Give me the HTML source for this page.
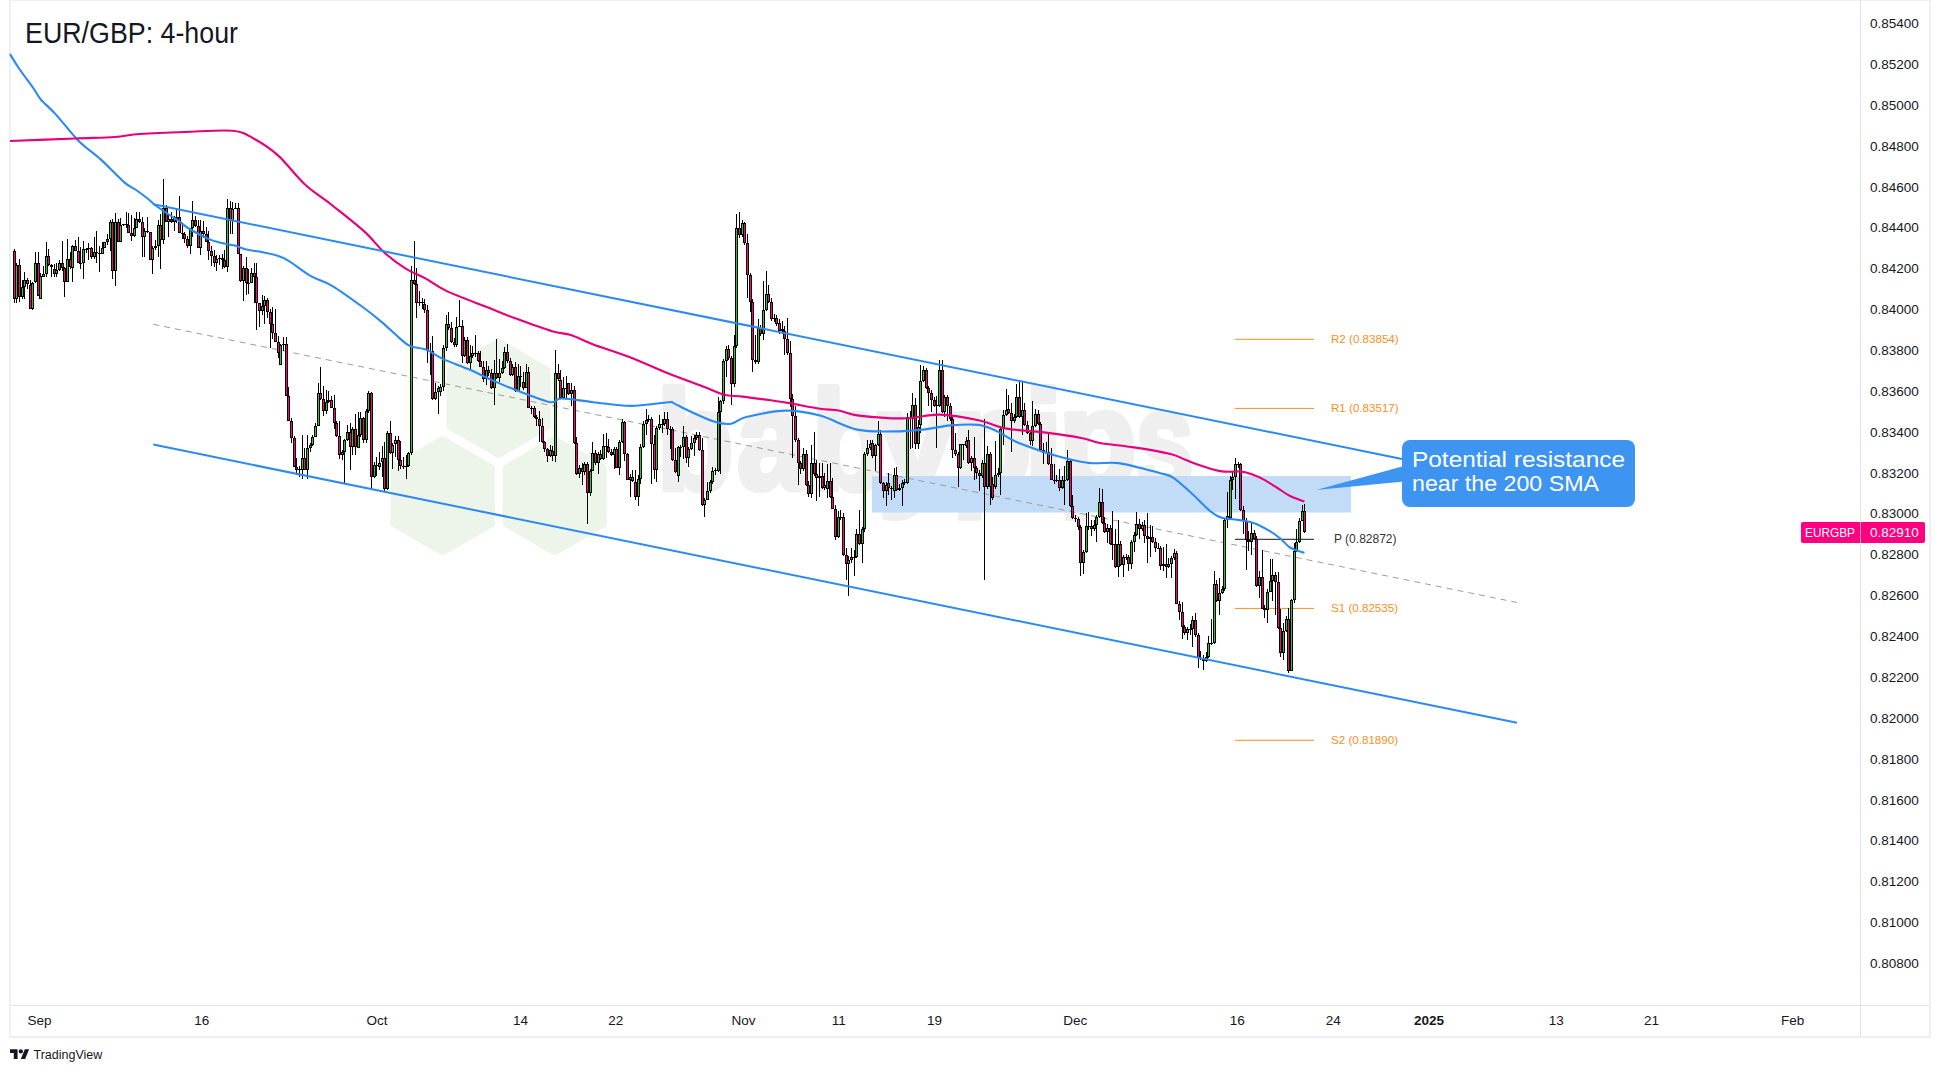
<!DOCTYPE html><html><head><meta charset="utf-8"><style>html,body{margin:0;padding:0;background:#fff;width:1940px;height:1072px;overflow:hidden}svg{display:block}text{font-family:"Liberation Sans",sans-serif}</style></head><body>
<svg width="1940" height="1072" viewBox="0 0 1940 1072">
<rect width="1940" height="1072" fill="#ffffff"/>
<rect x="9" y="0" width="2" height="1038" fill="#eef0f3"/>
<rect x="9" y="0" width="1922" height="1" fill="#eef0f3"/>
<rect x="1929" y="0" width="2" height="1038" fill="#eef0f3"/>
<rect x="9" y="1036" width="1922" height="2" fill="#eef0f3"/>
<rect x="1860" y="0" width="1" height="1036" fill="#e0e2e6"/>
<rect x="11" y="1005" width="1918" height="1" fill="#e0e2e6"/>
<path d="M498.6,342.8 L546.7,370.6 L546.7,426.1 L498.6,453.8 L450.5,426.1 L450.5,370.6Z" fill="#edf5eb" stroke="#edf5eb" stroke-width="8" stroke-linejoin="round"/>
<path d="M442.7,440.3 L490.8,468.1 L490.8,523.5 L442.7,551.3 L394.6,523.5 L394.6,468.1Z" fill="#edf5eb" stroke="#edf5eb" stroke-width="8" stroke-linejoin="round"/>
<path d="M554.8,440.3 L602.9,468.1 L602.9,523.5 L554.8,551.3 L506.7,523.5 L506.7,468.1Z" fill="#edf5eb" stroke="#edf5eb" stroke-width="8" stroke-linejoin="round"/>
<g fill="#efefef" stroke="#efefef" stroke-width="6" stroke-linejoin="round"><text transform="translate(656.6,489) scale(0.896,1)" font-size="141" font-weight="bold">b</text><text transform="translate(737.1,489) scale(0.852,1)" font-size="141" font-weight="bold">a</text><text transform="translate(811.8,489) scale(0.870,1)" font-size="141" font-weight="bold">b</text><text transform="translate(878.0,489) scale(0.988,1)" font-size="141" font-weight="bold">y</text><text transform="translate(951.4,489) scale(0.935,1)" font-size="141" font-weight="bold">p</text><text transform="translate(1024.0,489) scale(1.000,1)" font-size="141" font-weight="bold">i</text><text transform="translate(1058.5,489) scale(0.909,1)" font-size="141" font-weight="bold">p</text><text transform="translate(1135.5,489) scale(0.743,1)" font-size="141" font-weight="bold">s</text></g>
<rect x="872" y="476" width="479" height="36.5" fill="#c2dcf8"/>
<line x1="153.3" y1="324.3" x2="1517" y2="602.5" stroke="#9c9c9c" stroke-width="1" stroke-dasharray="6,5"/>
<rect x="1235" y="338.8" width="79" height="1" fill="#f5901e"/>
<text x="1331" y="343.3" font-size="11.6" fill="#f5901e">R2 (0.83854)</text>
<rect x="1235" y="407.9" width="79" height="1" fill="#f5901e"/>
<text x="1331" y="412.4" font-size="11.6" fill="#f5901e">R1 (0.83517)</text>
<rect x="1235" y="607.9" width="79" height="1" fill="#f5901e"/>
<text x="1331" y="612.4" font-size="11.6" fill="#f5901e">S1 (0.82535)</text>
<rect x="1235" y="739.8" width="79" height="1" fill="#f5901e"/>
<text x="1331" y="744.3" font-size="11.6" fill="#f5901e">S2 (0.81890)</text>
<g shape-rendering="crispEdges"><rect x="14" y="249.4" width="1" height="53.9" fill="#000"/><rect x="13" y="250.6" width="3" height="48.4" fill="#000"/><rect x="14" y="251.6" width="1" height="46.4" fill="#ff0080"/><rect x="16" y="262.7" width="1" height="40.3" fill="#000"/><rect x="15" y="264.5" width="3" height="34.5" fill="#000"/><rect x="16" y="265.5" width="1" height="32.5" fill="#33c41f"/><rect x="19" y="259.0" width="1" height="43.0" fill="#000"/><rect x="18" y="264.5" width="3" height="32.2" fill="#000"/><rect x="19" y="265.5" width="1" height="30.2" fill="#ff0080"/><rect x="22" y="280.0" width="1" height="19.0" fill="#000"/><rect x="21" y="287.0" width="3" height="10.0" fill="#000"/><rect x="22" y="288.0" width="1" height="8.0" fill="#33c41f"/><rect x="24" y="272.4" width="1" height="26.1" fill="#000"/><rect x="23" y="279.7" width="3" height="7.3" fill="#000"/><rect x="24" y="280.7" width="1" height="5.3" fill="#33c41f"/><rect x="27" y="278.0" width="1" height="11.0" fill="#000"/><rect x="26" y="280.0" width="3" height="4.0" fill="#000"/><rect x="27" y="281.0" width="1" height="2.0" fill="#ff0080"/><rect x="30" y="280.0" width="1" height="29.4" fill="#000"/><rect x="29" y="284.5" width="3" height="24.9" fill="#000"/><rect x="30" y="285.5" width="1" height="22.9" fill="#ff0080"/><rect x="32" y="281.5" width="1" height="28.5" fill="#000"/><rect x="31" y="282.7" width="3" height="26.7" fill="#000"/><rect x="32" y="283.7" width="1" height="24.7" fill="#33c41f"/><rect x="35" y="252.4" width="1" height="30.6" fill="#000"/><rect x="34" y="263.3" width="3" height="18.7" fill="#000"/><rect x="35" y="264.3" width="1" height="16.7" fill="#33c41f"/><rect x="38" y="252.4" width="1" height="43.6" fill="#000"/><rect x="37" y="263.3" width="3" height="32.2" fill="#000"/><rect x="38" y="264.3" width="1" height="30.2" fill="#ff0080"/><rect x="40" y="273.0" width="1" height="25.5" fill="#000"/><rect x="39" y="276.0" width="3" height="22.5" fill="#000"/><rect x="40" y="277.0" width="1" height="20.5" fill="#33c41f"/><rect x="43" y="266.4" width="1" height="10.6" fill="#000"/><rect x="42" y="273.6" width="3" height="3.4" fill="#000"/><rect x="43" y="274.6" width="1" height="1.4" fill="#33c41f"/><rect x="46" y="242.0" width="1" height="35.0" fill="#000"/><rect x="45" y="256.0" width="3" height="18.0" fill="#000"/><rect x="46" y="257.0" width="1" height="16.0" fill="#33c41f"/><rect x="48" y="249.4" width="1" height="16.6" fill="#000"/><rect x="47" y="256.0" width="3" height="9.0" fill="#000"/><rect x="48" y="257.0" width="1" height="7.0" fill="#ff0080"/><rect x="51" y="264.0" width="1" height="13.0" fill="#000"/><rect x="50" y="265.0" width="3" height="2.0" fill="#000"/><rect x="54" y="264.0" width="1" height="13.0" fill="#000"/><rect x="53" y="269.0" width="3" height="5.0" fill="#000"/><rect x="54" y="270.0" width="1" height="3.0" fill="#ff0080"/><rect x="56" y="262.7" width="1" height="14.0" fill="#000"/><rect x="55" y="270.0" width="3" height="4.0" fill="#000"/><rect x="56" y="271.0" width="1" height="2.0" fill="#33c41f"/><rect x="59" y="260.0" width="1" height="10.6" fill="#000"/><rect x="58" y="263.3" width="3" height="6.7" fill="#000"/><rect x="59" y="264.3" width="1" height="4.7" fill="#33c41f"/><rect x="62" y="241.0" width="1" height="29.6" fill="#000"/><rect x="61" y="263.0" width="3" height="5.0" fill="#000"/><rect x="62" y="264.0" width="1" height="3.0" fill="#ff0080"/><rect x="64" y="267.0" width="1" height="29.7" fill="#000"/><rect x="63" y="268.0" width="3" height="13.5" fill="#000"/><rect x="64" y="269.0" width="1" height="11.5" fill="#ff0080"/><rect x="67" y="238.5" width="1" height="43.0" fill="#000"/><rect x="66" y="258.5" width="3" height="23.0" fill="#000"/><rect x="67" y="259.5" width="1" height="21.0" fill="#33c41f"/><rect x="70" y="252.4" width="1" height="17.0" fill="#000"/><rect x="69" y="258.5" width="3" height="8.5" fill="#000"/><rect x="70" y="259.5" width="1" height="6.5" fill="#ff0080"/><rect x="72" y="245.0" width="1" height="36.5" fill="#000"/><rect x="71" y="245.8" width="3" height="21.8" fill="#000"/><rect x="72" y="246.8" width="1" height="19.8" fill="#33c41f"/><rect x="75" y="239.7" width="1" height="11.5" fill="#000"/><rect x="74" y="245.8" width="3" height="5.4" fill="#000"/><rect x="75" y="246.8" width="1" height="3.4" fill="#ff0080"/><rect x="78" y="237.3" width="1" height="25.4" fill="#000"/><rect x="77" y="251.2" width="3" height="11.5" fill="#000"/><rect x="78" y="252.2" width="1" height="9.5" fill="#ff0080"/><rect x="80" y="247.0" width="1" height="22.4" fill="#000"/><rect x="79" y="262.7" width="3" height="1.3" fill="#000"/><rect x="83" y="241.0" width="1" height="37.5" fill="#000"/><rect x="82" y="248.6" width="3" height="13.9" fill="#000"/><rect x="83" y="249.6" width="1" height="11.9" fill="#33c41f"/><rect x="86" y="247.6" width="1" height="5.4" fill="#000"/><rect x="85" y="248.6" width="3" height="1.0" fill="#000"/><rect x="88" y="243.0" width="1" height="17.3" fill="#000"/><rect x="87" y="248.0" width="3" height="1.0" fill="#000"/><rect x="91" y="247.0" width="1" height="12.0" fill="#000"/><rect x="90" y="248.0" width="3" height="9.3" fill="#000"/><rect x="91" y="249.0" width="1" height="7.3" fill="#ff0080"/><rect x="94" y="237.0" width="1" height="22.0" fill="#000"/><rect x="93" y="252.0" width="3" height="5.3" fill="#000"/><rect x="94" y="253.0" width="1" height="3.3" fill="#33c41f"/><rect x="96" y="231.2" width="1" height="31.5" fill="#000"/><rect x="95" y="252.0" width="3" height="1.0" fill="#000"/><rect x="99" y="246.4" width="1" height="25.4" fill="#000"/><rect x="98" y="252.5" width="3" height="1.5" fill="#000"/><rect x="102" y="242.0" width="1" height="12.2" fill="#000"/><rect x="101" y="248.0" width="3" height="6.0" fill="#000"/><rect x="102" y="249.0" width="1" height="4.0" fill="#33c41f"/><rect x="104" y="242.0" width="1" height="6.2" fill="#000"/><rect x="103" y="242.0" width="3" height="6.0" fill="#000"/><rect x="104" y="243.0" width="1" height="4.0" fill="#33c41f"/><rect x="107" y="234.0" width="1" height="10.5" fill="#000"/><rect x="106" y="238.5" width="3" height="3.5" fill="#000"/><rect x="107" y="239.5" width="1" height="1.5" fill="#33c41f"/><rect x="110" y="220.0" width="1" height="30.6" fill="#000"/><rect x="109" y="221.5" width="3" height="17.0" fill="#000"/><rect x="110" y="222.5" width="1" height="15.0" fill="#33c41f"/><rect x="112" y="219.0" width="1" height="59.5" fill="#000"/><rect x="111" y="221.5" width="3" height="49.7" fill="#000"/><rect x="112" y="222.5" width="1" height="47.7" fill="#ff0080"/><rect x="115" y="213.0" width="1" height="72.8" fill="#000"/><rect x="114" y="222.0" width="3" height="49.2" fill="#000"/><rect x="115" y="223.0" width="1" height="47.2" fill="#33c41f"/><rect x="118" y="218.5" width="1" height="23.0" fill="#000"/><rect x="117" y="222.0" width="3" height="19.5" fill="#000"/><rect x="118" y="223.0" width="1" height="17.5" fill="#ff0080"/><rect x="120" y="217.9" width="1" height="23.6" fill="#000"/><rect x="119" y="225.0" width="3" height="16.5" fill="#000"/><rect x="120" y="226.0" width="1" height="14.5" fill="#33c41f"/><rect x="123" y="224.0" width="1" height="2.4" fill="#000"/><rect x="122" y="224.0" width="3" height="1.0" fill="#000"/><rect x="126" y="211.8" width="1" height="16.2" fill="#000"/><rect x="125" y="224.0" width="3" height="1.0" fill="#000"/><rect x="128" y="213.0" width="1" height="20.0" fill="#000"/><rect x="127" y="225.0" width="3" height="8.0" fill="#000"/><rect x="128" y="226.0" width="1" height="6.0" fill="#ff0080"/><rect x="131" y="214.8" width="1" height="26.2" fill="#000"/><rect x="130" y="233.0" width="3" height="3.0" fill="#000"/><rect x="131" y="234.0" width="1" height="1.0" fill="#ff0080"/><rect x="134" y="218.0" width="1" height="19.3" fill="#000"/><rect x="133" y="227.6" width="3" height="8.4" fill="#000"/><rect x="134" y="228.6" width="1" height="6.4" fill="#33c41f"/><rect x="136" y="212.4" width="1" height="15.2" fill="#000"/><rect x="135" y="218.5" width="3" height="9.1" fill="#000"/><rect x="136" y="219.5" width="1" height="7.1" fill="#33c41f"/><rect x="139" y="212.4" width="1" height="10.9" fill="#000"/><rect x="138" y="218.5" width="3" height="3.5" fill="#000"/><rect x="139" y="219.5" width="1" height="1.5" fill="#ff0080"/><rect x="142" y="217.0" width="1" height="39.7" fill="#000"/><rect x="141" y="222.0" width="3" height="15.3" fill="#000"/><rect x="142" y="223.0" width="1" height="13.3" fill="#ff0080"/><rect x="144" y="228.2" width="1" height="29.1" fill="#000"/><rect x="143" y="230.6" width="3" height="6.7" fill="#000"/><rect x="144" y="231.6" width="1" height="4.7" fill="#33c41f"/><rect x="147" y="217.0" width="1" height="16.0" fill="#000"/><rect x="146" y="230.6" width="3" height="1.8" fill="#000"/><rect x="150" y="231.8" width="1" height="28.5" fill="#000"/><rect x="149" y="232.4" width="3" height="27.9" fill="#000"/><rect x="150" y="233.4" width="1" height="25.9" fill="#ff0080"/><rect x="152" y="246.4" width="1" height="27.8" fill="#000"/><rect x="151" y="247.6" width="3" height="12.7" fill="#000"/><rect x="152" y="248.6" width="1" height="10.7" fill="#33c41f"/><rect x="155" y="239.7" width="1" height="10.3" fill="#000"/><rect x="154" y="245.8" width="3" height="1.8" fill="#000"/><rect x="158" y="219.7" width="1" height="37.6" fill="#000"/><rect x="157" y="225.0" width="3" height="20.8" fill="#000"/><rect x="158" y="226.0" width="1" height="18.8" fill="#33c41f"/><rect x="160" y="214.0" width="1" height="55.4" fill="#000"/><rect x="159" y="225.0" width="3" height="15.3" fill="#000"/><rect x="160" y="226.0" width="1" height="13.3" fill="#ff0080"/><rect x="163" y="179.0" width="1" height="65.0" fill="#000"/><rect x="162" y="207.6" width="3" height="32.7" fill="#000"/><rect x="163" y="208.6" width="1" height="30.7" fill="#33c41f"/><rect x="166" y="205.0" width="1" height="16.5" fill="#000"/><rect x="165" y="207.6" width="3" height="13.9" fill="#000"/><rect x="166" y="208.6" width="1" height="11.9" fill="#ff0080"/><rect x="168" y="214.0" width="1" height="23.3" fill="#000"/><rect x="167" y="219.0" width="3" height="2.5" fill="#000"/><rect x="168" y="220.0" width="1" height="0.5" fill="#33c41f"/><rect x="171" y="211.8" width="1" height="11.5" fill="#000"/><rect x="170" y="219.0" width="3" height="3.0" fill="#000"/><rect x="171" y="220.0" width="1" height="1.0" fill="#ff0080"/><rect x="174" y="216.0" width="1" height="14.6" fill="#000"/><rect x="173" y="217.0" width="3" height="5.0" fill="#000"/><rect x="174" y="218.0" width="1" height="3.0" fill="#33c41f"/><rect x="176" y="208.8" width="1" height="14.5" fill="#000"/><rect x="175" y="217.0" width="3" height="4.0" fill="#000"/><rect x="176" y="218.0" width="1" height="2.0" fill="#ff0080"/><rect x="179" y="196.0" width="1" height="37.0" fill="#000"/><rect x="178" y="216.7" width="3" height="16.3" fill="#000"/><rect x="179" y="217.7" width="1" height="14.3" fill="#ff0080"/><rect x="182" y="224.5" width="1" height="14.5" fill="#000"/><rect x="181" y="233.0" width="3" height="1.0" fill="#000"/><rect x="184" y="232.4" width="1" height="10.3" fill="#000"/><rect x="183" y="234.0" width="3" height="5.0" fill="#000"/><rect x="184" y="235.0" width="1" height="3.0" fill="#ff0080"/><rect x="187" y="235.5" width="1" height="12.1" fill="#000"/><rect x="186" y="239.0" width="3" height="7.4" fill="#000"/><rect x="187" y="240.0" width="1" height="5.4" fill="#ff0080"/><rect x="190" y="228.0" width="1" height="25.6" fill="#000"/><rect x="189" y="228.0" width="3" height="18.4" fill="#000"/><rect x="190" y="229.0" width="1" height="16.4" fill="#33c41f"/><rect x="192" y="201.0" width="1" height="36.3" fill="#000"/><rect x="191" y="220.3" width="3" height="7.7" fill="#000"/><rect x="192" y="221.3" width="1" height="5.7" fill="#33c41f"/><rect x="195" y="216.0" width="1" height="11.0" fill="#000"/><rect x="194" y="220.3" width="3" height="5.5" fill="#000"/><rect x="195" y="221.3" width="1" height="3.5" fill="#ff0080"/><rect x="198" y="219.7" width="1" height="27.9" fill="#000"/><rect x="197" y="225.8" width="3" height="21.8" fill="#000"/><rect x="198" y="226.8" width="1" height="19.8" fill="#ff0080"/><rect x="200" y="219.7" width="1" height="35.1" fill="#000"/><rect x="199" y="230.6" width="3" height="17.0" fill="#000"/><rect x="200" y="231.6" width="1" height="15.0" fill="#33c41f"/><rect x="203" y="221.0" width="1" height="16.9" fill="#000"/><rect x="202" y="230.6" width="3" height="3.6" fill="#000"/><rect x="203" y="231.6" width="1" height="1.6" fill="#ff0080"/><rect x="206" y="227.0" width="1" height="14.5" fill="#000"/><rect x="205" y="234.2" width="3" height="7.3" fill="#000"/><rect x="206" y="235.2" width="1" height="5.3" fill="#ff0080"/><rect x="208" y="231.2" width="1" height="28.5" fill="#000"/><rect x="207" y="241.5" width="3" height="9.7" fill="#000"/><rect x="208" y="242.5" width="1" height="7.7" fill="#ff0080"/><rect x="211" y="246.4" width="1" height="19.4" fill="#000"/><rect x="210" y="251.2" width="3" height="4.8" fill="#000"/><rect x="211" y="252.2" width="1" height="2.8" fill="#ff0080"/><rect x="214" y="250.0" width="1" height="17.0" fill="#000"/><rect x="213" y="256.0" width="3" height="6.7" fill="#000"/><rect x="214" y="257.0" width="1" height="4.7" fill="#ff0080"/><rect x="216" y="254.8" width="1" height="16.4" fill="#000"/><rect x="215" y="259.0" width="3" height="3.7" fill="#000"/><rect x="216" y="260.0" width="1" height="1.7" fill="#33c41f"/><rect x="219" y="254.8" width="1" height="9.7" fill="#000"/><rect x="218" y="258.4" width="3" height="1.0" fill="#000"/><rect x="222" y="253.6" width="1" height="15.8" fill="#000"/><rect x="221" y="258.4" width="3" height="1.9" fill="#000"/><rect x="224" y="250.0" width="1" height="18.2" fill="#000"/><rect x="223" y="260.3" width="3" height="6.7" fill="#000"/><rect x="224" y="261.3" width="1" height="4.7" fill="#ff0080"/><rect x="227" y="199.0" width="1" height="73.4" fill="#000"/><rect x="226" y="207.6" width="3" height="59.4" fill="#000"/><rect x="227" y="208.6" width="1" height="57.4" fill="#33c41f"/><rect x="230" y="201.0" width="1" height="33.2" fill="#000"/><rect x="229" y="207.6" width="3" height="13.4" fill="#000"/><rect x="230" y="208.6" width="1" height="11.4" fill="#ff0080"/><rect x="232" y="201.5" width="1" height="32.7" fill="#000"/><rect x="231" y="208.8" width="3" height="12.2" fill="#000"/><rect x="232" y="209.8" width="1" height="10.2" fill="#33c41f"/><rect x="235" y="202.7" width="1" height="6.1" fill="#000"/><rect x="234" y="208.0" width="3" height="1.0" fill="#000"/><rect x="238" y="202.7" width="1" height="50.9" fill="#000"/><rect x="237" y="207.6" width="3" height="46.0" fill="#000"/><rect x="238" y="208.6" width="1" height="44.0" fill="#ff0080"/><rect x="240" y="253.6" width="1" height="28.4" fill="#000"/><rect x="239" y="253.6" width="3" height="27.4" fill="#000"/><rect x="240" y="254.6" width="1" height="25.4" fill="#ff0080"/><rect x="243" y="266.0" width="1" height="35.0" fill="#000"/><rect x="242" y="268.0" width="3" height="13.0" fill="#000"/><rect x="243" y="269.0" width="1" height="11.0" fill="#33c41f"/><rect x="246" y="257.0" width="1" height="37.5" fill="#000"/><rect x="245" y="267.6" width="3" height="14.9" fill="#000"/><rect x="246" y="268.6" width="1" height="12.9" fill="#ff0080"/><rect x="248" y="269.0" width="1" height="24.7" fill="#000"/><rect x="247" y="282.5" width="3" height="1.0" fill="#000"/><rect x="251" y="268.4" width="1" height="14.6" fill="#000"/><rect x="250" y="272.8" width="3" height="9.7" fill="#000"/><rect x="251" y="273.8" width="1" height="7.7" fill="#33c41f"/><rect x="254" y="263.0" width="1" height="39.7" fill="#000"/><rect x="253" y="272.8" width="3" height="4.5" fill="#000"/><rect x="254" y="273.8" width="1" height="2.5" fill="#ff0080"/><rect x="256" y="263.0" width="1" height="67.3" fill="#000"/><rect x="255" y="277.3" width="3" height="26.1" fill="#000"/><rect x="256" y="278.3" width="1" height="24.1" fill="#ff0080"/><rect x="259" y="303.0" width="1" height="23.6" fill="#000"/><rect x="258" y="303.4" width="3" height="7.6" fill="#000"/><rect x="259" y="304.4" width="1" height="5.6" fill="#ff0080"/><rect x="262" y="294.5" width="1" height="20.1" fill="#000"/><rect x="261" y="305.7" width="3" height="5.3" fill="#000"/><rect x="262" y="306.7" width="1" height="3.3" fill="#33c41f"/><rect x="264" y="296.0" width="1" height="28.3" fill="#000"/><rect x="263" y="299.7" width="3" height="6.0" fill="#000"/><rect x="264" y="300.7" width="1" height="4.0" fill="#33c41f"/><rect x="267" y="297.5" width="1" height="20.1" fill="#000"/><rect x="266" y="299.7" width="3" height="11.9" fill="#000"/><rect x="267" y="300.7" width="1" height="9.9" fill="#ff0080"/><rect x="270" y="308.7" width="1" height="39.5" fill="#000"/><rect x="269" y="311.6" width="3" height="12.0" fill="#000"/><rect x="270" y="312.6" width="1" height="10.0" fill="#ff0080"/><rect x="272" y="307.2" width="1" height="31.3" fill="#000"/><rect x="271" y="323.6" width="3" height="9.7" fill="#000"/><rect x="272" y="324.6" width="1" height="7.7" fill="#ff0080"/><rect x="275" y="309.4" width="1" height="32.6" fill="#000"/><rect x="274" y="333.3" width="3" height="8.2" fill="#000"/><rect x="275" y="334.3" width="1" height="6.2" fill="#ff0080"/><rect x="278" y="335.5" width="1" height="22.4" fill="#000"/><rect x="277" y="341.5" width="3" height="11.9" fill="#000"/><rect x="278" y="342.5" width="1" height="9.9" fill="#ff0080"/><rect x="280" y="344.0" width="1" height="21.4" fill="#000"/><rect x="279" y="344.5" width="3" height="20.9" fill="#000"/><rect x="280" y="345.5" width="1" height="18.9" fill="#33c41f"/><rect x="283" y="336.7" width="1" height="14.3" fill="#000"/><rect x="282" y="344.0" width="3" height="1.0" fill="#000"/><rect x="286" y="336.7" width="1" height="59.7" fill="#000"/><rect x="285" y="344.2" width="3" height="52.2" fill="#000"/><rect x="286" y="345.2" width="1" height="50.2" fill="#ff0080"/><rect x="288" y="386.7" width="1" height="34.3" fill="#000"/><rect x="287" y="396.4" width="3" height="24.6" fill="#000"/><rect x="288" y="397.4" width="1" height="22.6" fill="#ff0080"/><rect x="291" y="418.0" width="1" height="25.4" fill="#000"/><rect x="290" y="421.0" width="3" height="17.2" fill="#000"/><rect x="291" y="422.0" width="1" height="15.2" fill="#ff0080"/><rect x="294" y="436.0" width="1" height="30.6" fill="#000"/><rect x="293" y="438.2" width="3" height="28.4" fill="#000"/><rect x="294" y="439.2" width="1" height="26.4" fill="#ff0080"/><rect x="296" y="457.6" width="1" height="17.2" fill="#000"/><rect x="295" y="466.6" width="3" height="2.9" fill="#000"/><rect x="296" y="467.6" width="1" height="0.9" fill="#ff0080"/><rect x="299" y="466.0" width="1" height="11.0" fill="#000"/><rect x="298" y="469.0" width="3" height="1.0" fill="#000"/><rect x="302" y="434.5" width="1" height="44.8" fill="#000"/><rect x="301" y="458.4" width="3" height="11.1" fill="#000"/><rect x="302" y="459.4" width="1" height="9.1" fill="#33c41f"/><rect x="304" y="448.0" width="1" height="22.0" fill="#000"/><rect x="303" y="458.4" width="3" height="11.1" fill="#000"/><rect x="304" y="459.4" width="1" height="9.1" fill="#ff0080"/><rect x="307" y="434.5" width="1" height="44.0" fill="#000"/><rect x="306" y="447.9" width="3" height="21.6" fill="#000"/><rect x="307" y="448.9" width="1" height="19.6" fill="#33c41f"/><rect x="310" y="443.0" width="1" height="9.0" fill="#000"/><rect x="309" y="445.0" width="3" height="2.9" fill="#000"/><rect x="310" y="446.0" width="1" height="0.9" fill="#33c41f"/><rect x="312" y="435.0" width="1" height="11.0" fill="#000"/><rect x="311" y="436.7" width="3" height="8.3" fill="#000"/><rect x="312" y="437.7" width="1" height="6.3" fill="#33c41f"/><rect x="315" y="422.5" width="1" height="14.5" fill="#000"/><rect x="314" y="425.5" width="3" height="11.2" fill="#000"/><rect x="315" y="426.5" width="1" height="9.2" fill="#33c41f"/><rect x="318" y="383.0" width="1" height="43.0" fill="#000"/><rect x="317" y="392.7" width="3" height="32.8" fill="#000"/><rect x="318" y="393.7" width="1" height="30.8" fill="#33c41f"/><rect x="320" y="367.3" width="1" height="32.7" fill="#000"/><rect x="319" y="392.7" width="3" height="6.7" fill="#000"/><rect x="320" y="393.7" width="1" height="4.7" fill="#ff0080"/><rect x="323" y="386.0" width="1" height="29.8" fill="#000"/><rect x="322" y="399.4" width="3" height="11.2" fill="#000"/><rect x="323" y="400.4" width="1" height="9.2" fill="#ff0080"/><rect x="326" y="390.4" width="1" height="23.9" fill="#000"/><rect x="325" y="402.4" width="3" height="8.2" fill="#000"/><rect x="326" y="403.4" width="1" height="6.2" fill="#33c41f"/><rect x="328" y="391.0" width="1" height="12.0" fill="#000"/><rect x="327" y="400.1" width="3" height="2.3" fill="#000"/><rect x="328" y="401.1" width="1" height="0.3" fill="#33c41f"/><rect x="331" y="395.7" width="1" height="12.3" fill="#000"/><rect x="330" y="400.1" width="3" height="7.5" fill="#000"/><rect x="331" y="401.1" width="1" height="5.5" fill="#ff0080"/><rect x="334" y="395.0" width="1" height="34.3" fill="#000"/><rect x="333" y="407.6" width="3" height="15.7" fill="#000"/><rect x="334" y="408.6" width="1" height="13.7" fill="#ff0080"/><rect x="336" y="421.0" width="1" height="16.0" fill="#000"/><rect x="335" y="423.3" width="3" height="12.7" fill="#000"/><rect x="336" y="424.3" width="1" height="10.7" fill="#ff0080"/><rect x="339" y="421.0" width="1" height="38.0" fill="#000"/><rect x="338" y="436.0" width="3" height="19.4" fill="#000"/><rect x="339" y="437.0" width="1" height="17.4" fill="#ff0080"/><rect x="342" y="450.0" width="1" height="10.0" fill="#000"/><rect x="341" y="451.6" width="3" height="3.8" fill="#000"/><rect x="342" y="452.6" width="1" height="1.8" fill="#33c41f"/><rect x="344" y="439.0" width="1" height="44.0" fill="#000"/><rect x="343" y="440.4" width="3" height="11.2" fill="#000"/><rect x="344" y="441.4" width="1" height="9.2" fill="#33c41f"/><rect x="347" y="424.8" width="1" height="16.2" fill="#000"/><rect x="346" y="431.5" width="3" height="8.9" fill="#000"/><rect x="347" y="432.5" width="1" height="6.9" fill="#33c41f"/><rect x="350" y="422.5" width="1" height="47.1" fill="#000"/><rect x="349" y="431.5" width="3" height="15.7" fill="#000"/><rect x="350" y="432.5" width="1" height="13.7" fill="#ff0080"/><rect x="352" y="427.0" width="1" height="28.4" fill="#000"/><rect x="351" y="428.5" width="3" height="18.7" fill="#000"/><rect x="352" y="429.5" width="1" height="16.7" fill="#33c41f"/><rect x="355" y="414.3" width="1" height="41.1" fill="#000"/><rect x="354" y="428.5" width="3" height="18.7" fill="#000"/><rect x="355" y="429.5" width="1" height="16.7" fill="#ff0080"/><rect x="358" y="412.0" width="1" height="36.0" fill="#000"/><rect x="357" y="434.5" width="3" height="13.4" fill="#000"/><rect x="358" y="435.5" width="1" height="11.4" fill="#33c41f"/><rect x="360" y="412.0" width="1" height="24.5" fill="#000"/><rect x="359" y="418.0" width="3" height="16.5" fill="#000"/><rect x="360" y="419.0" width="1" height="14.5" fill="#33c41f"/><rect x="363" y="416.5" width="1" height="26.8" fill="#000"/><rect x="362" y="418.0" width="3" height="22.4" fill="#000"/><rect x="363" y="419.0" width="1" height="20.4" fill="#ff0080"/><rect x="366" y="409.4" width="1" height="33.6" fill="#000"/><rect x="365" y="410.6" width="3" height="29.8" fill="#000"/><rect x="366" y="411.6" width="1" height="27.8" fill="#33c41f"/><rect x="368" y="391.0" width="1" height="21.7" fill="#000"/><rect x="367" y="393.4" width="3" height="17.2" fill="#000"/><rect x="368" y="394.4" width="1" height="15.2" fill="#33c41f"/><rect x="371" y="392.2" width="1" height="96.2" fill="#000"/><rect x="370" y="393.4" width="3" height="83.8" fill="#000"/><rect x="371" y="394.4" width="1" height="81.8" fill="#ff0080"/><rect x="374" y="462.4" width="1" height="15.9" fill="#000"/><rect x="373" y="464.9" width="3" height="12.3" fill="#000"/><rect x="374" y="465.9" width="1" height="10.3" fill="#33c41f"/><rect x="376" y="457.3" width="1" height="18.5" fill="#000"/><rect x="375" y="464.9" width="3" height="1.1" fill="#000"/><rect x="379" y="452.3" width="1" height="17.4" fill="#000"/><rect x="378" y="462.7" width="3" height="4.4" fill="#000"/><rect x="379" y="463.7" width="1" height="2.4" fill="#33c41f"/><rect x="382" y="446.0" width="1" height="30.7" fill="#000"/><rect x="381" y="457.6" width="3" height="4.8" fill="#000"/><rect x="382" y="458.6" width="1" height="2.8" fill="#33c41f"/><rect x="384" y="442.0" width="1" height="49.5" fill="#000"/><rect x="383" y="457.9" width="3" height="31.3" fill="#000"/><rect x="384" y="458.9" width="1" height="29.3" fill="#ff0080"/><rect x="387" y="430.7" width="1" height="59.7" fill="#000"/><rect x="386" y="433.0" width="3" height="56.2" fill="#000"/><rect x="387" y="434.0" width="1" height="54.2" fill="#33c41f"/><rect x="390" y="421.0" width="1" height="33.2" fill="#000"/><rect x="389" y="433.0" width="3" height="19.9" fill="#000"/><rect x="390" y="434.0" width="1" height="17.9" fill="#ff0080"/><rect x="392" y="442.7" width="1" height="26.1" fill="#000"/><rect x="391" y="445.0" width="3" height="8.4" fill="#000"/><rect x="392" y="446.0" width="1" height="6.4" fill="#33c41f"/><rect x="395" y="436.2" width="1" height="20.3" fill="#000"/><rect x="394" y="439.7" width="3" height="4.3" fill="#000"/><rect x="395" y="440.7" width="1" height="2.3" fill="#33c41f"/><rect x="398" y="436.0" width="1" height="34.5" fill="#000"/><rect x="397" y="439.7" width="3" height="20.4" fill="#000"/><rect x="398" y="440.7" width="1" height="18.4" fill="#ff0080"/><rect x="400" y="441.4" width="1" height="28.0" fill="#000"/><rect x="399" y="459.6" width="3" height="6.4" fill="#000"/><rect x="400" y="460.6" width="1" height="4.4" fill="#ff0080"/><rect x="403" y="457.3" width="1" height="12.1" fill="#000"/><rect x="402" y="466.0" width="3" height="1.0" fill="#000"/><rect x="406" y="455.1" width="1" height="23.5" fill="#000"/><rect x="405" y="465.5" width="3" height="1.0" fill="#000"/><rect x="408" y="452.0" width="1" height="14.9" fill="#000"/><rect x="407" y="453.4" width="3" height="12.1" fill="#000"/><rect x="408" y="454.4" width="1" height="10.1" fill="#33c41f"/><rect x="411" y="265.5" width="1" height="189.6" fill="#000"/><rect x="410" y="279.6" width="3" height="173.8" fill="#000"/><rect x="411" y="280.6" width="1" height="171.8" fill="#33c41f"/><rect x="414" y="240.6" width="1" height="44.4" fill="#000"/><rect x="413" y="279.6" width="3" height="4.4" fill="#000"/><rect x="414" y="280.6" width="1" height="2.4" fill="#ff0080"/><rect x="416" y="268.0" width="1" height="49.8" fill="#000"/><rect x="415" y="284.0" width="3" height="18.7" fill="#000"/><rect x="416" y="285.0" width="1" height="16.7" fill="#ff0080"/><rect x="419" y="291.0" width="1" height="15.0" fill="#000"/><rect x="418" y="301.5" width="3" height="1.2" fill="#000"/><rect x="422" y="298.0" width="1" height="11.0" fill="#000"/><rect x="421" y="301.8" width="3" height="1.0" fill="#000"/><rect x="424" y="299.0" width="1" height="14.0" fill="#000"/><rect x="423" y="303.6" width="3" height="6.2" fill="#000"/><rect x="424" y="304.6" width="1" height="4.2" fill="#ff0080"/><rect x="427" y="305.0" width="1" height="58.0" fill="#000"/><rect x="426" y="309.8" width="3" height="40.8" fill="#000"/><rect x="427" y="310.8" width="1" height="38.8" fill="#ff0080"/><rect x="430" y="342.6" width="1" height="32.8" fill="#000"/><rect x="429" y="350.6" width="3" height="1.0" fill="#000"/><rect x="432" y="336.4" width="1" height="63.6" fill="#000"/><rect x="431" y="350.6" width="3" height="48.7" fill="#000"/><rect x="432" y="351.6" width="1" height="46.7" fill="#ff0080"/><rect x="435" y="382.5" width="1" height="17.5" fill="#000"/><rect x="434" y="392.2" width="3" height="7.1" fill="#000"/><rect x="435" y="393.2" width="1" height="5.1" fill="#33c41f"/><rect x="438" y="386.0" width="1" height="27.5" fill="#000"/><rect x="437" y="387.8" width="3" height="4.4" fill="#000"/><rect x="438" y="388.8" width="1" height="2.4" fill="#33c41f"/><rect x="440" y="384.0" width="1" height="12.0" fill="#000"/><rect x="439" y="386.9" width="3" height="5.3" fill="#000"/><rect x="440" y="387.9" width="1" height="3.3" fill="#33c41f"/><rect x="443" y="345.0" width="1" height="45.7" fill="#000"/><rect x="442" y="347.9" width="3" height="39.0" fill="#000"/><rect x="443" y="348.9" width="1" height="37.0" fill="#33c41f"/><rect x="446" y="315.0" width="1" height="35.6" fill="#000"/><rect x="445" y="324.0" width="3" height="23.9" fill="#000"/><rect x="446" y="325.0" width="1" height="21.9" fill="#33c41f"/><rect x="448" y="311.6" width="1" height="18.4" fill="#000"/><rect x="447" y="324.0" width="3" height="4.4" fill="#000"/><rect x="448" y="325.0" width="1" height="2.4" fill="#ff0080"/><rect x="451" y="322.2" width="1" height="20.8" fill="#000"/><rect x="450" y="328.4" width="3" height="13.3" fill="#000"/><rect x="451" y="329.4" width="1" height="11.3" fill="#ff0080"/><rect x="454" y="338.0" width="1" height="9.0" fill="#000"/><rect x="453" y="341.7" width="3" height="3.5" fill="#000"/><rect x="454" y="342.7" width="1" height="1.5" fill="#ff0080"/><rect x="456" y="316.9" width="1" height="30.1" fill="#000"/><rect x="455" y="326.6" width="3" height="18.6" fill="#000"/><rect x="456" y="327.6" width="1" height="16.6" fill="#33c41f"/><rect x="459" y="300.0" width="1" height="27.0" fill="#000"/><rect x="458" y="325.7" width="3" height="1.0" fill="#000"/><rect x="462" y="319.5" width="1" height="43.5" fill="#000"/><rect x="461" y="325.7" width="3" height="30.2" fill="#000"/><rect x="462" y="326.7" width="1" height="28.2" fill="#ff0080"/><rect x="464" y="337.3" width="1" height="19.7" fill="#000"/><rect x="463" y="339.9" width="3" height="16.0" fill="#000"/><rect x="464" y="340.9" width="1" height="14.0" fill="#33c41f"/><rect x="467" y="337.3" width="1" height="26.7" fill="#000"/><rect x="466" y="339.9" width="3" height="23.1" fill="#000"/><rect x="467" y="340.9" width="1" height="21.1" fill="#ff0080"/><rect x="470" y="345.2" width="1" height="24.8" fill="#000"/><rect x="469" y="355.9" width="3" height="7.1" fill="#000"/><rect x="470" y="356.9" width="1" height="5.1" fill="#33c41f"/><rect x="472" y="346.1" width="1" height="11.9" fill="#000"/><rect x="471" y="353.2" width="3" height="2.7" fill="#000"/><rect x="472" y="354.2" width="1" height="0.7" fill="#33c41f"/><rect x="475" y="334.6" width="1" height="22.4" fill="#000"/><rect x="474" y="353.2" width="3" height="1.0" fill="#000"/><rect x="478" y="350.6" width="1" height="11.4" fill="#000"/><rect x="477" y="353.2" width="3" height="8.0" fill="#000"/><rect x="478" y="354.2" width="1" height="6.0" fill="#ff0080"/><rect x="480" y="351.0" width="1" height="16.0" fill="#000"/><rect x="479" y="361.2" width="3" height="5.4" fill="#000"/><rect x="480" y="362.2" width="1" height="3.4" fill="#ff0080"/><rect x="483" y="361.0" width="1" height="21.0" fill="#000"/><rect x="482" y="366.6" width="3" height="11.9" fill="#000"/><rect x="483" y="367.6" width="1" height="9.9" fill="#ff0080"/><rect x="486" y="361.0" width="1" height="24.0" fill="#000"/><rect x="485" y="369.6" width="3" height="8.9" fill="#000"/><rect x="486" y="370.6" width="1" height="6.9" fill="#33c41f"/><rect x="488" y="365.8" width="1" height="9.7" fill="#000"/><rect x="487" y="369.6" width="3" height="3.7" fill="#000"/><rect x="488" y="370.6" width="1" height="1.7" fill="#ff0080"/><rect x="491" y="369.4" width="1" height="19.3" fill="#000"/><rect x="490" y="373.3" width="3" height="14.2" fill="#000"/><rect x="491" y="374.3" width="1" height="12.2" fill="#ff0080"/><rect x="494" y="359.9" width="1" height="45.5" fill="#000"/><rect x="493" y="373.3" width="3" height="14.2" fill="#000"/><rect x="494" y="374.3" width="1" height="12.2" fill="#33c41f"/><rect x="496" y="339.0" width="1" height="40.0" fill="#000"/><rect x="495" y="373.3" width="3" height="4.5" fill="#000"/><rect x="496" y="374.3" width="1" height="2.5" fill="#ff0080"/><rect x="499" y="359.0" width="1" height="22.5" fill="#000"/><rect x="498" y="373.3" width="3" height="4.5" fill="#000"/><rect x="499" y="374.3" width="1" height="2.5" fill="#33c41f"/><rect x="502" y="361.3" width="1" height="12.7" fill="#000"/><rect x="501" y="368.0" width="3" height="5.3" fill="#000"/><rect x="502" y="369.0" width="1" height="3.3" fill="#33c41f"/><rect x="504" y="347.2" width="1" height="21.8" fill="#000"/><rect x="503" y="351.6" width="3" height="16.4" fill="#000"/><rect x="504" y="352.6" width="1" height="14.4" fill="#33c41f"/><rect x="507" y="344.2" width="1" height="18.8" fill="#000"/><rect x="506" y="351.6" width="3" height="9.7" fill="#000"/><rect x="507" y="352.6" width="1" height="7.7" fill="#ff0080"/><rect x="510" y="357.6" width="1" height="18.4" fill="#000"/><rect x="509" y="361.3" width="3" height="13.5" fill="#000"/><rect x="510" y="362.3" width="1" height="11.5" fill="#ff0080"/><rect x="512" y="364.0" width="1" height="12.0" fill="#000"/><rect x="511" y="366.6" width="3" height="8.2" fill="#000"/><rect x="512" y="367.6" width="1" height="6.2" fill="#33c41f"/><rect x="515" y="362.0" width="1" height="30.0" fill="#000"/><rect x="514" y="366.6" width="3" height="24.6" fill="#000"/><rect x="515" y="367.6" width="1" height="22.6" fill="#ff0080"/><rect x="518" y="364.3" width="1" height="27.7" fill="#000"/><rect x="517" y="375.5" width="3" height="15.7" fill="#000"/><rect x="518" y="376.5" width="1" height="13.7" fill="#33c41f"/><rect x="520" y="365.8" width="1" height="21.2" fill="#000"/><rect x="519" y="375.5" width="3" height="1.0" fill="#000"/><rect x="523" y="371.8" width="1" height="18.6" fill="#000"/><rect x="522" y="382.2" width="3" height="5.3" fill="#000"/><rect x="523" y="383.2" width="1" height="3.3" fill="#ff0080"/><rect x="526" y="364.3" width="1" height="23.7" fill="#000"/><rect x="525" y="371.8" width="3" height="15.7" fill="#000"/><rect x="526" y="372.8" width="1" height="13.7" fill="#33c41f"/><rect x="528" y="366.6" width="1" height="41.4" fill="#000"/><rect x="527" y="371.8" width="3" height="35.8" fill="#000"/><rect x="528" y="372.8" width="1" height="33.8" fill="#ff0080"/><rect x="531" y="406.0" width="1" height="8.3" fill="#000"/><rect x="530" y="407.6" width="3" height="1.0" fill="#000"/><rect x="534" y="406.0" width="1" height="12.0" fill="#000"/><rect x="533" y="407.6" width="3" height="9.7" fill="#000"/><rect x="534" y="408.6" width="1" height="7.7" fill="#ff0080"/><rect x="536" y="415.0" width="1" height="10.5" fill="#000"/><rect x="535" y="417.3" width="3" height="1.5" fill="#000"/><rect x="539" y="410.6" width="1" height="31.4" fill="#000"/><rect x="538" y="418.8" width="3" height="7.5" fill="#000"/><rect x="539" y="419.8" width="1" height="5.5" fill="#ff0080"/><rect x="542" y="418.0" width="1" height="25.0" fill="#000"/><rect x="541" y="426.3" width="3" height="15.7" fill="#000"/><rect x="542" y="427.3" width="1" height="13.7" fill="#ff0080"/><rect x="544" y="441.0" width="1" height="11.4" fill="#000"/><rect x="543" y="442.0" width="3" height="7.4" fill="#000"/><rect x="544" y="443.0" width="1" height="5.4" fill="#ff0080"/><rect x="547" y="448.0" width="1" height="14.0" fill="#000"/><rect x="546" y="449.4" width="3" height="6.7" fill="#000"/><rect x="547" y="450.4" width="1" height="4.7" fill="#ff0080"/><rect x="550" y="444.9" width="1" height="12.1" fill="#000"/><rect x="549" y="450.1" width="3" height="6.0" fill="#000"/><rect x="550" y="451.1" width="1" height="4.0" fill="#33c41f"/><rect x="552" y="446.4" width="1" height="14.9" fill="#000"/><rect x="551" y="451.0" width="3" height="5.1" fill="#000"/><rect x="552" y="452.0" width="1" height="3.1" fill="#ff0080"/><rect x="555" y="350.0" width="1" height="112.0" fill="#000"/><rect x="554" y="373.3" width="3" height="82.8" fill="#000"/><rect x="555" y="374.3" width="1" height="80.8" fill="#33c41f"/><rect x="558" y="363.6" width="1" height="17.4" fill="#000"/><rect x="557" y="373.3" width="3" height="6.0" fill="#000"/><rect x="558" y="374.3" width="1" height="4.0" fill="#ff0080"/><rect x="560" y="370.0" width="1" height="28.0" fill="#000"/><rect x="559" y="379.6" width="3" height="17.9" fill="#000"/><rect x="560" y="380.6" width="1" height="15.9" fill="#ff0080"/><rect x="563" y="377.3" width="1" height="20.7" fill="#000"/><rect x="562" y="387.8" width="3" height="9.7" fill="#000"/><rect x="563" y="388.8" width="1" height="7.7" fill="#33c41f"/><rect x="566" y="375.8" width="1" height="23.2" fill="#000"/><rect x="565" y="387.8" width="3" height="1.0" fill="#000"/><rect x="568" y="382.5" width="1" height="12.5" fill="#000"/><rect x="567" y="383.3" width="3" height="10.4" fill="#000"/><rect x="568" y="384.3" width="1" height="8.4" fill="#ff0080"/><rect x="571" y="383.3" width="1" height="22.4" fill="#000"/><rect x="570" y="390.0" width="3" height="3.7" fill="#000"/><rect x="571" y="391.0" width="1" height="1.7" fill="#33c41f"/><rect x="574" y="386.3" width="1" height="57.7" fill="#000"/><rect x="573" y="390.0" width="3" height="53.0" fill="#000"/><rect x="574" y="391.0" width="1" height="51.0" fill="#ff0080"/><rect x="576" y="437.0" width="1" height="38.0" fill="#000"/><rect x="575" y="443.0" width="3" height="31.3" fill="#000"/><rect x="576" y="444.0" width="1" height="29.3" fill="#ff0080"/><rect x="579" y="465.0" width="1" height="13.0" fill="#000"/><rect x="578" y="467.6" width="3" height="6.7" fill="#000"/><rect x="579" y="468.6" width="1" height="4.7" fill="#33c41f"/><rect x="582" y="463.0" width="1" height="21.8" fill="#000"/><rect x="581" y="467.6" width="3" height="4.4" fill="#000"/><rect x="582" y="468.6" width="1" height="2.4" fill="#ff0080"/><rect x="584" y="462.4" width="1" height="12.6" fill="#000"/><rect x="583" y="463.9" width="3" height="8.1" fill="#000"/><rect x="584" y="464.9" width="1" height="6.1" fill="#33c41f"/><rect x="587" y="462.0" width="1" height="62.4" fill="#000"/><rect x="586" y="463.9" width="3" height="29.1" fill="#000"/><rect x="587" y="464.9" width="1" height="27.1" fill="#ff0080"/><rect x="590" y="469.0" width="1" height="27.0" fill="#000"/><rect x="589" y="470.6" width="3" height="22.4" fill="#000"/><rect x="590" y="471.6" width="1" height="20.4" fill="#33c41f"/><rect x="592" y="441.5" width="1" height="29.5" fill="#000"/><rect x="591" y="452.7" width="3" height="17.9" fill="#000"/><rect x="592" y="453.7" width="1" height="15.9" fill="#33c41f"/><rect x="595" y="450.0" width="1" height="15.0" fill="#000"/><rect x="594" y="452.7" width="3" height="10.4" fill="#000"/><rect x="595" y="453.7" width="1" height="8.4" fill="#ff0080"/><rect x="598" y="452.0" width="1" height="22.3" fill="#000"/><rect x="597" y="454.2" width="3" height="8.9" fill="#000"/><rect x="598" y="455.2" width="1" height="6.9" fill="#33c41f"/><rect x="600" y="450.4" width="1" height="9.6" fill="#000"/><rect x="599" y="454.2" width="3" height="5.2" fill="#000"/><rect x="600" y="455.2" width="1" height="3.2" fill="#ff0080"/><rect x="603" y="434.0" width="1" height="26.0" fill="#000"/><rect x="602" y="446.0" width="3" height="13.4" fill="#000"/><rect x="603" y="447.0" width="1" height="11.4" fill="#33c41f"/><rect x="606" y="433.3" width="1" height="24.7" fill="#000"/><rect x="605" y="446.0" width="3" height="1.0" fill="#000"/><rect x="608" y="438.5" width="1" height="14.5" fill="#000"/><rect x="607" y="446.7" width="3" height="5.2" fill="#000"/><rect x="608" y="447.7" width="1" height="3.2" fill="#ff0080"/><rect x="611" y="449.0" width="1" height="7.0" fill="#000"/><rect x="610" y="451.9" width="3" height="3.1" fill="#000"/><rect x="611" y="452.9" width="1" height="1.1" fill="#ff0080"/><rect x="614" y="447.0" width="1" height="22.0" fill="#000"/><rect x="613" y="449.0" width="3" height="6.0" fill="#000"/><rect x="614" y="450.0" width="1" height="4.0" fill="#33c41f"/><rect x="616" y="447.0" width="1" height="21.0" fill="#000"/><rect x="615" y="449.0" width="3" height="18.6" fill="#000"/><rect x="616" y="450.0" width="1" height="16.6" fill="#ff0080"/><rect x="619" y="440.0" width="1" height="35.0" fill="#000"/><rect x="618" y="442.2" width="3" height="25.4" fill="#000"/><rect x="619" y="443.2" width="1" height="23.4" fill="#33c41f"/><rect x="622" y="419.0" width="1" height="24.0" fill="#000"/><rect x="621" y="422.0" width="3" height="20.2" fill="#000"/><rect x="622" y="423.0" width="1" height="18.2" fill="#33c41f"/><rect x="624" y="420.6" width="1" height="40.3" fill="#000"/><rect x="623" y="422.0" width="3" height="32.2" fill="#000"/><rect x="624" y="423.0" width="1" height="30.2" fill="#ff0080"/><rect x="627" y="453.0" width="1" height="27.0" fill="#000"/><rect x="626" y="454.2" width="3" height="25.4" fill="#000"/><rect x="627" y="455.2" width="1" height="23.4" fill="#ff0080"/><rect x="630" y="474.0" width="1" height="22.7" fill="#000"/><rect x="629" y="476.6" width="3" height="3.0" fill="#000"/><rect x="630" y="477.6" width="1" height="1.0" fill="#33c41f"/><rect x="632" y="469.9" width="1" height="12.1" fill="#000"/><rect x="631" y="476.6" width="3" height="4.4" fill="#000"/><rect x="632" y="477.6" width="1" height="2.4" fill="#ff0080"/><rect x="635" y="470.4" width="1" height="29.9" fill="#000"/><rect x="634" y="481.6" width="3" height="15.0" fill="#000"/><rect x="635" y="482.6" width="1" height="13.0" fill="#ff0080"/><rect x="638" y="475.0" width="1" height="31.3" fill="#000"/><rect x="637" y="478.7" width="3" height="17.9" fill="#000"/><rect x="638" y="479.7" width="1" height="15.9" fill="#33c41f"/><rect x="640" y="443.6" width="1" height="40.3" fill="#000"/><rect x="639" y="447.3" width="3" height="31.4" fill="#000"/><rect x="640" y="448.3" width="1" height="29.4" fill="#33c41f"/><rect x="643" y="421.2" width="1" height="26.8" fill="#000"/><rect x="642" y="424.2" width="3" height="23.1" fill="#000"/><rect x="643" y="425.2" width="1" height="21.1" fill="#33c41f"/><rect x="646" y="408.5" width="1" height="26.9" fill="#000"/><rect x="645" y="420.4" width="3" height="3.8" fill="#000"/><rect x="646" y="421.4" width="1" height="1.8" fill="#33c41f"/><rect x="648" y="415.2" width="1" height="6.8" fill="#000"/><rect x="647" y="419.0" width="3" height="1.4" fill="#000"/><rect x="651" y="417.0" width="1" height="66.9" fill="#000"/><rect x="650" y="419.0" width="3" height="24.6" fill="#000"/><rect x="651" y="420.0" width="1" height="22.6" fill="#ff0080"/><rect x="654" y="435.4" width="1" height="43.3" fill="#000"/><rect x="653" y="443.6" width="3" height="26.8" fill="#000"/><rect x="654" y="444.6" width="1" height="24.8" fill="#ff0080"/><rect x="656" y="426.0" width="1" height="55.6" fill="#000"/><rect x="655" y="427.9" width="3" height="42.5" fill="#000"/><rect x="656" y="428.9" width="1" height="40.5" fill="#33c41f"/><rect x="659" y="414.5" width="1" height="15.5" fill="#000"/><rect x="658" y="424.2" width="3" height="3.7" fill="#000"/><rect x="659" y="425.2" width="1" height="1.7" fill="#33c41f"/><rect x="662" y="419.0" width="1" height="14.1" fill="#000"/><rect x="661" y="424.2" width="3" height="1.0" fill="#000"/><rect x="664" y="412.2" width="1" height="13.8" fill="#000"/><rect x="663" y="419.0" width="3" height="5.2" fill="#000"/><rect x="664" y="420.0" width="1" height="3.2" fill="#33c41f"/><rect x="667" y="412.2" width="1" height="23.2" fill="#000"/><rect x="666" y="419.0" width="3" height="10.4" fill="#000"/><rect x="667" y="420.0" width="1" height="8.4" fill="#ff0080"/><rect x="670" y="426.0" width="1" height="22.8" fill="#000"/><rect x="669" y="429.4" width="3" height="1.0" fill="#000"/><rect x="672" y="427.0" width="1" height="34.0" fill="#000"/><rect x="671" y="429.4" width="3" height="30.6" fill="#000"/><rect x="672" y="430.4" width="1" height="28.6" fill="#ff0080"/><rect x="675" y="448.0" width="1" height="25.0" fill="#000"/><rect x="674" y="460.0" width="3" height="12.0" fill="#000"/><rect x="675" y="461.0" width="1" height="10.0" fill="#ff0080"/><rect x="678" y="446.0" width="1" height="35.6" fill="#000"/><rect x="677" y="447.3" width="3" height="28.4" fill="#000"/><rect x="678" y="448.3" width="1" height="26.4" fill="#33c41f"/><rect x="680" y="445.0" width="1" height="12.0" fill="#000"/><rect x="679" y="447.3" width="3" height="1.0" fill="#000"/><rect x="683" y="425.7" width="1" height="33.6" fill="#000"/><rect x="682" y="436.9" width="3" height="10.4" fill="#000"/><rect x="683" y="437.9" width="1" height="8.4" fill="#33c41f"/><rect x="686" y="435.0" width="1" height="28.0" fill="#000"/><rect x="685" y="436.9" width="3" height="20.9" fill="#000"/><rect x="686" y="437.9" width="1" height="18.9" fill="#ff0080"/><rect x="688" y="447.0" width="1" height="19.7" fill="#000"/><rect x="687" y="448.8" width="3" height="9.0" fill="#000"/><rect x="688" y="449.8" width="1" height="7.0" fill="#33c41f"/><rect x="691" y="436.1" width="1" height="13.9" fill="#000"/><rect x="690" y="442.8" width="3" height="6.0" fill="#000"/><rect x="691" y="443.8" width="1" height="4.0" fill="#33c41f"/><rect x="694" y="434.6" width="1" height="20.9" fill="#000"/><rect x="693" y="438.4" width="3" height="4.4" fill="#000"/><rect x="694" y="439.4" width="1" height="2.4" fill="#33c41f"/><rect x="696" y="431.6" width="1" height="8.4" fill="#000"/><rect x="695" y="435.4" width="3" height="3.0" fill="#000"/><rect x="696" y="436.4" width="1" height="1.0" fill="#33c41f"/><rect x="699" y="432.4" width="1" height="18.6" fill="#000"/><rect x="698" y="435.4" width="3" height="14.2" fill="#000"/><rect x="699" y="436.4" width="1" height="12.2" fill="#ff0080"/><rect x="702" y="437.6" width="1" height="68.4" fill="#000"/><rect x="701" y="449.6" width="3" height="55.2" fill="#000"/><rect x="702" y="450.6" width="1" height="53.2" fill="#ff0080"/><rect x="704" y="498.0" width="1" height="18.7" fill="#000"/><rect x="703" y="499.6" width="3" height="5.2" fill="#000"/><rect x="704" y="500.6" width="1" height="3.2" fill="#33c41f"/><rect x="707" y="482.4" width="1" height="17.6" fill="#000"/><rect x="706" y="491.3" width="3" height="8.3" fill="#000"/><rect x="707" y="492.3" width="1" height="6.3" fill="#33c41f"/><rect x="710" y="480.0" width="1" height="13.0" fill="#000"/><rect x="709" y="482.4" width="3" height="8.9" fill="#000"/><rect x="710" y="483.4" width="1" height="6.9" fill="#33c41f"/><rect x="712" y="467.4" width="1" height="16.8" fill="#000"/><rect x="711" y="471.0" width="3" height="11.4" fill="#000"/><rect x="712" y="472.0" width="1" height="9.4" fill="#33c41f"/><rect x="715" y="468.0" width="1" height="7.0" fill="#000"/><rect x="714" y="470.0" width="3" height="1.0" fill="#000"/><rect x="718" y="397.4" width="1" height="75.0" fill="#000"/><rect x="717" y="411.6" width="3" height="59.4" fill="#000"/><rect x="718" y="412.6" width="1" height="57.4" fill="#33c41f"/><rect x="720" y="399.5" width="1" height="74.1" fill="#000"/><rect x="719" y="400.9" width="3" height="10.7" fill="#000"/><rect x="720" y="401.9" width="1" height="8.7" fill="#33c41f"/><rect x="723" y="359.1" width="1" height="45.3" fill="#000"/><rect x="722" y="361.0" width="3" height="39.9" fill="#000"/><rect x="723" y="362.0" width="1" height="37.9" fill="#33c41f"/><rect x="726" y="346.0" width="1" height="31.0" fill="#000"/><rect x="725" y="348.6" width="3" height="12.4" fill="#000"/><rect x="726" y="349.6" width="1" height="10.4" fill="#33c41f"/><rect x="728" y="345.0" width="1" height="14.9" fill="#000"/><rect x="727" y="348.6" width="3" height="9.8" fill="#000"/><rect x="728" y="349.6" width="1" height="7.8" fill="#ff0080"/><rect x="731" y="355.7" width="1" height="48.8" fill="#000"/><rect x="730" y="358.4" width="3" height="25.6" fill="#000"/><rect x="731" y="359.4" width="1" height="23.6" fill="#ff0080"/><rect x="734" y="335.3" width="1" height="51.6" fill="#000"/><rect x="733" y="345.5" width="3" height="38.5" fill="#000"/><rect x="734" y="346.5" width="1" height="36.5" fill="#33c41f"/><rect x="736" y="214.0" width="1" height="133.6" fill="#000"/><rect x="735" y="228.0" width="3" height="117.5" fill="#000"/><rect x="736" y="229.0" width="1" height="115.5" fill="#33c41f"/><rect x="739" y="212.1" width="1" height="25.9" fill="#000"/><rect x="738" y="228.0" width="3" height="7.4" fill="#000"/><rect x="739" y="229.0" width="1" height="5.4" fill="#ff0080"/><rect x="742" y="220.0" width="1" height="16.6" fill="#000"/><rect x="741" y="223.3" width="3" height="12.1" fill="#000"/><rect x="742" y="224.3" width="1" height="10.1" fill="#33c41f"/><rect x="744" y="222.1" width="1" height="22.9" fill="#000"/><rect x="743" y="223.3" width="3" height="19.6" fill="#000"/><rect x="744" y="224.3" width="1" height="17.6" fill="#ff0080"/><rect x="747" y="233.6" width="1" height="64.4" fill="#000"/><rect x="746" y="242.9" width="3" height="31.7" fill="#000"/><rect x="747" y="243.9" width="1" height="29.7" fill="#ff0080"/><rect x="750" y="273.0" width="1" height="39.0" fill="#000"/><rect x="749" y="274.6" width="3" height="27.1" fill="#000"/><rect x="750" y="275.6" width="1" height="25.1" fill="#ff0080"/><rect x="752" y="298.7" width="1" height="72.9" fill="#000"/><rect x="751" y="301.7" width="3" height="57.8" fill="#000"/><rect x="752" y="302.7" width="1" height="55.8" fill="#ff0080"/><rect x="755" y="335.3" width="1" height="28.7" fill="#000"/><rect x="754" y="359.5" width="3" height="2.8" fill="#000"/><rect x="755" y="360.5" width="1" height="0.8" fill="#ff0080"/><rect x="758" y="318.5" width="1" height="45.5" fill="#000"/><rect x="757" y="327.8" width="3" height="34.5" fill="#000"/><rect x="758" y="328.8" width="1" height="32.5" fill="#33c41f"/><rect x="760" y="325.0" width="1" height="11.0" fill="#000"/><rect x="759" y="327.8" width="3" height="6.5" fill="#000"/><rect x="760" y="328.8" width="1" height="4.5" fill="#ff0080"/><rect x="763" y="281.2" width="1" height="58.8" fill="#000"/><rect x="762" y="310.0" width="3" height="24.3" fill="#000"/><rect x="763" y="311.0" width="1" height="22.3" fill="#33c41f"/><rect x="766" y="270.9" width="1" height="40.1" fill="#000"/><rect x="765" y="294.2" width="3" height="15.8" fill="#000"/><rect x="766" y="295.2" width="1" height="13.8" fill="#33c41f"/><rect x="768" y="284.9" width="1" height="18.1" fill="#000"/><rect x="767" y="294.2" width="3" height="7.5" fill="#000"/><rect x="768" y="295.2" width="1" height="5.5" fill="#ff0080"/><rect x="771" y="298.0" width="1" height="23.0" fill="#000"/><rect x="770" y="301.7" width="3" height="17.7" fill="#000"/><rect x="771" y="302.7" width="1" height="15.7" fill="#ff0080"/><rect x="774" y="313.8" width="1" height="8.2" fill="#000"/><rect x="773" y="317.5" width="3" height="1.9" fill="#000"/><rect x="776" y="315.0" width="1" height="11.0" fill="#000"/><rect x="775" y="317.5" width="3" height="6.5" fill="#000"/><rect x="776" y="318.5" width="1" height="4.5" fill="#ff0080"/><rect x="779" y="319.4" width="1" height="14.9" fill="#000"/><rect x="778" y="323.0" width="3" height="7.6" fill="#000"/><rect x="779" y="324.0" width="1" height="5.6" fill="#ff0080"/><rect x="782" y="321.3" width="1" height="13.0" fill="#000"/><rect x="781" y="329.0" width="3" height="1.6" fill="#000"/><rect x="784" y="326.0" width="1" height="29.2" fill="#000"/><rect x="783" y="330.6" width="3" height="8.2" fill="#000"/><rect x="784" y="331.6" width="1" height="6.2" fill="#ff0080"/><rect x="787" y="317.9" width="1" height="37.4" fill="#000"/><rect x="786" y="338.8" width="3" height="14.2" fill="#000"/><rect x="787" y="339.8" width="1" height="12.2" fill="#ff0080"/><rect x="790" y="341.0" width="1" height="65.7" fill="#000"/><rect x="789" y="353.0" width="3" height="45.5" fill="#000"/><rect x="790" y="354.0" width="1" height="43.5" fill="#ff0080"/><rect x="792" y="394.0" width="1" height="63.5" fill="#000"/><rect x="791" y="398.5" width="3" height="17.9" fill="#000"/><rect x="792" y="399.5" width="1" height="15.9" fill="#ff0080"/><rect x="795" y="406.0" width="1" height="36.2" fill="#000"/><rect x="794" y="416.4" width="3" height="23.9" fill="#000"/><rect x="795" y="417.4" width="1" height="21.9" fill="#ff0080"/><rect x="798" y="437.5" width="1" height="47.3" fill="#000"/><rect x="797" y="440.3" width="3" height="23.0" fill="#000"/><rect x="798" y="441.3" width="1" height="21.0" fill="#ff0080"/><rect x="800" y="460.9" width="1" height="13.5" fill="#000"/><rect x="799" y="463.3" width="3" height="5.6" fill="#000"/><rect x="800" y="464.3" width="1" height="3.6" fill="#ff0080"/><rect x="803" y="448.3" width="1" height="22.5" fill="#000"/><rect x="802" y="453.8" width="3" height="15.1" fill="#000"/><rect x="803" y="454.8" width="1" height="13.1" fill="#33c41f"/><rect x="806" y="450.0" width="1" height="36.0" fill="#000"/><rect x="805" y="453.8" width="3" height="31.0" fill="#000"/><rect x="806" y="454.8" width="1" height="29.0" fill="#ff0080"/><rect x="808" y="481.4" width="1" height="15.3" fill="#000"/><rect x="807" y="484.8" width="3" height="8.7" fill="#000"/><rect x="808" y="485.8" width="1" height="6.7" fill="#ff0080"/><rect x="811" y="445.0" width="1" height="52.5" fill="#000"/><rect x="810" y="462.5" width="3" height="31.0" fill="#000"/><rect x="811" y="463.5" width="1" height="29.0" fill="#33c41f"/><rect x="814" y="432.4" width="1" height="43.6" fill="#000"/><rect x="813" y="462.5" width="3" height="11.9" fill="#000"/><rect x="814" y="463.5" width="1" height="9.9" fill="#ff0080"/><rect x="816" y="460.2" width="1" height="41.2" fill="#000"/><rect x="815" y="474.4" width="3" height="3.2" fill="#000"/><rect x="816" y="475.4" width="1" height="1.2" fill="#ff0080"/><rect x="819" y="463.3" width="1" height="33.4" fill="#000"/><rect x="818" y="476.0" width="3" height="1.6" fill="#000"/><rect x="822" y="463.0" width="1" height="26.0" fill="#000"/><rect x="821" y="476.0" width="3" height="11.9" fill="#000"/><rect x="822" y="477.0" width="1" height="9.9" fill="#ff0080"/><rect x="824" y="473.0" width="1" height="17.0" fill="#000"/><rect x="823" y="484.8" width="3" height="3.1" fill="#000"/><rect x="824" y="485.8" width="1" height="1.1" fill="#33c41f"/><rect x="827" y="464.1" width="1" height="33.4" fill="#000"/><rect x="826" y="480.8" width="3" height="7.9" fill="#000"/><rect x="827" y="481.8" width="1" height="5.9" fill="#33c41f"/><rect x="830" y="462.5" width="1" height="35.5" fill="#000"/><rect x="829" y="480.8" width="3" height="15.9" fill="#000"/><rect x="830" y="481.8" width="1" height="13.9" fill="#ff0080"/><rect x="832" y="478.4" width="1" height="30.6" fill="#000"/><rect x="831" y="496.7" width="3" height="11.9" fill="#000"/><rect x="832" y="497.7" width="1" height="9.9" fill="#ff0080"/><rect x="835" y="505.4" width="1" height="34.1" fill="#000"/><rect x="834" y="508.6" width="3" height="28.5" fill="#000"/><rect x="835" y="509.6" width="1" height="26.5" fill="#ff0080"/><rect x="838" y="511.0" width="1" height="27.0" fill="#000"/><rect x="837" y="517.3" width="3" height="19.8" fill="#000"/><rect x="838" y="518.3" width="1" height="17.8" fill="#33c41f"/><rect x="840" y="510.2" width="1" height="9.8" fill="#000"/><rect x="839" y="517.3" width="3" height="1.0" fill="#000"/><rect x="843" y="512.5" width="1" height="43.5" fill="#000"/><rect x="842" y="517.3" width="3" height="38.1" fill="#000"/><rect x="843" y="518.3" width="1" height="36.1" fill="#ff0080"/><rect x="846" y="547.5" width="1" height="32.5" fill="#000"/><rect x="845" y="555.4" width="3" height="8.7" fill="#000"/><rect x="846" y="556.4" width="1" height="6.7" fill="#ff0080"/><rect x="848" y="556.0" width="1" height="39.9" fill="#000"/><rect x="847" y="560.2" width="3" height="3.9" fill="#000"/><rect x="848" y="561.2" width="1" height="1.9" fill="#33c41f"/><rect x="851" y="548.3" width="1" height="14.7" fill="#000"/><rect x="850" y="557.0" width="3" height="3.2" fill="#000"/><rect x="851" y="558.0" width="1" height="1.2" fill="#33c41f"/><rect x="854" y="550.0" width="1" height="26.0" fill="#000"/><rect x="853" y="557.0" width="3" height="1.0" fill="#000"/><rect x="856" y="529.2" width="1" height="28.8" fill="#000"/><rect x="855" y="534.0" width="3" height="23.0" fill="#000"/><rect x="856" y="535.0" width="1" height="21.0" fill="#33c41f"/><rect x="859" y="510.0" width="1" height="35.0" fill="#000"/><rect x="858" y="534.0" width="3" height="9.5" fill="#000"/><rect x="859" y="535.0" width="1" height="7.5" fill="#ff0080"/><rect x="862" y="527.0" width="1" height="36.3" fill="#000"/><rect x="861" y="529.2" width="3" height="14.3" fill="#000"/><rect x="862" y="530.2" width="1" height="12.3" fill="#33c41f"/><rect x="864" y="452.0" width="1" height="80.3" fill="#000"/><rect x="863" y="453.8" width="3" height="75.4" fill="#000"/><rect x="864" y="454.8" width="1" height="73.4" fill="#33c41f"/><rect x="867" y="439.5" width="1" height="16.5" fill="#000"/><rect x="866" y="447.5" width="3" height="6.3" fill="#000"/><rect x="867" y="448.5" width="1" height="4.3" fill="#33c41f"/><rect x="870" y="440.3" width="1" height="9.7" fill="#000"/><rect x="869" y="443.5" width="3" height="4.0" fill="#000"/><rect x="870" y="444.5" width="1" height="2.0" fill="#33c41f"/><rect x="872" y="440.0" width="1" height="18.0" fill="#000"/><rect x="871" y="442.9" width="3" height="13.4" fill="#000"/><rect x="872" y="443.9" width="1" height="11.4" fill="#ff0080"/><rect x="875" y="444.0" width="1" height="26.6" fill="#000"/><rect x="874" y="445.2" width="3" height="11.1" fill="#000"/><rect x="875" y="446.2" width="1" height="9.1" fill="#33c41f"/><rect x="878" y="421.4" width="1" height="24.6" fill="#000"/><rect x="877" y="434.1" width="3" height="11.1" fill="#000"/><rect x="878" y="435.1" width="1" height="9.1" fill="#33c41f"/><rect x="880" y="430.2" width="1" height="53.8" fill="#000"/><rect x="879" y="434.1" width="3" height="49.2" fill="#000"/><rect x="880" y="435.1" width="1" height="47.2" fill="#ff0080"/><rect x="883" y="482.0" width="1" height="16.4" fill="#000"/><rect x="882" y="483.3" width="3" height="7.2" fill="#000"/><rect x="883" y="484.3" width="1" height="5.2" fill="#ff0080"/><rect x="886" y="482.0" width="1" height="24.3" fill="#000"/><rect x="885" y="485.0" width="3" height="5.5" fill="#000"/><rect x="886" y="486.0" width="1" height="3.5" fill="#33c41f"/><rect x="888" y="473.0" width="1" height="22.2" fill="#000"/><rect x="887" y="482.5" width="3" height="5.6" fill="#000"/><rect x="888" y="483.5" width="1" height="3.6" fill="#ff0080"/><rect x="891" y="486.0" width="1" height="14.0" fill="#000"/><rect x="890" y="488.1" width="3" height="1.0" fill="#000"/><rect x="894" y="468.3" width="1" height="29.3" fill="#000"/><rect x="893" y="474.6" width="3" height="15.9" fill="#000"/><rect x="894" y="475.6" width="1" height="13.9" fill="#33c41f"/><rect x="896" y="466.7" width="1" height="24.3" fill="#000"/><rect x="895" y="474.6" width="3" height="15.1" fill="#000"/><rect x="896" y="475.6" width="1" height="13.1" fill="#ff0080"/><rect x="899" y="484.0" width="1" height="7.0" fill="#000"/><rect x="898" y="488.0" width="3" height="1.7" fill="#000"/><rect x="902" y="480.0" width="1" height="25.6" fill="#000"/><rect x="901" y="482.5" width="3" height="5.6" fill="#000"/><rect x="902" y="483.5" width="1" height="3.6" fill="#33c41f"/><rect x="904" y="479.0" width="1" height="6.0" fill="#000"/><rect x="903" y="482.0" width="3" height="1.0" fill="#000"/><rect x="907" y="412.7" width="1" height="71.5" fill="#000"/><rect x="906" y="416.7" width="3" height="65.8" fill="#000"/><rect x="907" y="417.7" width="1" height="63.8" fill="#33c41f"/><rect x="910" y="411.0" width="1" height="38.2" fill="#000"/><rect x="909" y="416.7" width="3" height="2.3" fill="#000"/><rect x="910" y="417.7" width="1" height="0.3" fill="#ff0080"/><rect x="912" y="392.9" width="1" height="54.7" fill="#000"/><rect x="911" y="404.8" width="3" height="14.2" fill="#000"/><rect x="912" y="405.8" width="1" height="12.2" fill="#33c41f"/><rect x="915" y="398.4" width="1" height="50.8" fill="#000"/><rect x="914" y="404.8" width="3" height="39.6" fill="#000"/><rect x="915" y="405.8" width="1" height="37.6" fill="#ff0080"/><rect x="918" y="420.0" width="1" height="29.2" fill="#000"/><rect x="917" y="427.0" width="3" height="17.4" fill="#000"/><rect x="918" y="428.0" width="1" height="15.4" fill="#33c41f"/><rect x="920" y="365.0" width="1" height="67.5" fill="#000"/><rect x="919" y="381.0" width="3" height="43.6" fill="#000"/><rect x="920" y="382.0" width="1" height="41.6" fill="#33c41f"/><rect x="923" y="366.0" width="1" height="16.0" fill="#000"/><rect x="922" y="369.8" width="3" height="11.2" fill="#000"/><rect x="923" y="370.8" width="1" height="9.2" fill="#33c41f"/><rect x="926" y="368.3" width="1" height="20.7" fill="#000"/><rect x="925" y="369.8" width="3" height="18.3" fill="#000"/><rect x="926" y="370.8" width="1" height="16.3" fill="#ff0080"/><rect x="928" y="386.0" width="1" height="19.6" fill="#000"/><rect x="927" y="388.1" width="3" height="4.8" fill="#000"/><rect x="928" y="389.1" width="1" height="2.8" fill="#ff0080"/><rect x="931" y="390.0" width="1" height="21.9" fill="#000"/><rect x="930" y="392.9" width="3" height="7.1" fill="#000"/><rect x="931" y="393.9" width="1" height="5.1" fill="#ff0080"/><rect x="934" y="396.8" width="1" height="10.2" fill="#000"/><rect x="933" y="400.0" width="3" height="5.6" fill="#000"/><rect x="934" y="401.0" width="1" height="3.6" fill="#ff0080"/><rect x="936" y="396.0" width="1" height="52.4" fill="#000"/><rect x="935" y="405.0" width="3" height="1.0" fill="#000"/><rect x="939" y="360.3" width="1" height="46.7" fill="#000"/><rect x="938" y="369.8" width="3" height="35.8" fill="#000"/><rect x="939" y="370.8" width="1" height="33.8" fill="#33c41f"/><rect x="942" y="360.3" width="1" height="52.7" fill="#000"/><rect x="941" y="369.8" width="3" height="42.1" fill="#000"/><rect x="942" y="370.8" width="1" height="40.1" fill="#ff0080"/><rect x="944" y="395.0" width="1" height="21.7" fill="#000"/><rect x="943" y="396.8" width="3" height="15.1" fill="#000"/><rect x="944" y="397.8" width="1" height="13.1" fill="#33c41f"/><rect x="947" y="395.2" width="1" height="26.2" fill="#000"/><rect x="946" y="396.8" width="3" height="8.8" fill="#000"/><rect x="947" y="397.8" width="1" height="6.8" fill="#ff0080"/><rect x="950" y="403.2" width="1" height="17.8" fill="#000"/><rect x="949" y="405.6" width="3" height="13.4" fill="#000"/><rect x="950" y="406.6" width="1" height="11.4" fill="#ff0080"/><rect x="952" y="417.0" width="1" height="41.0" fill="#000"/><rect x="951" y="419.0" width="3" height="31.0" fill="#000"/><rect x="952" y="420.0" width="1" height="29.0" fill="#ff0080"/><rect x="955" y="433.3" width="1" height="22.7" fill="#000"/><rect x="954" y="450.0" width="3" height="4.0" fill="#000"/><rect x="955" y="451.0" width="1" height="2.0" fill="#ff0080"/><rect x="958" y="452.0" width="1" height="35.3" fill="#000"/><rect x="957" y="454.0" width="3" height="13.5" fill="#000"/><rect x="958" y="455.0" width="1" height="11.5" fill="#ff0080"/><rect x="960" y="443.7" width="1" height="25.3" fill="#000"/><rect x="959" y="443.7" width="3" height="23.8" fill="#000"/><rect x="960" y="444.7" width="1" height="21.8" fill="#33c41f"/><rect x="963" y="443.7" width="1" height="15.8" fill="#000"/><rect x="962" y="443.7" width="3" height="1.3" fill="#000"/><rect x="966" y="437.3" width="1" height="10.7" fill="#000"/><rect x="965" y="440.5" width="3" height="5.5" fill="#000"/><rect x="966" y="441.5" width="1" height="3.5" fill="#33c41f"/><rect x="968" y="430.2" width="1" height="33.8" fill="#000"/><rect x="967" y="439.7" width="3" height="23.0" fill="#000"/><rect x="968" y="440.7" width="1" height="21.0" fill="#ff0080"/><rect x="971" y="456.0" width="1" height="14.6" fill="#000"/><rect x="970" y="458.0" width="3" height="4.7" fill="#000"/><rect x="971" y="459.0" width="1" height="2.7" fill="#33c41f"/><rect x="974" y="436.5" width="1" height="43.7" fill="#000"/><rect x="973" y="458.0" width="3" height="9.5" fill="#000"/><rect x="974" y="459.0" width="1" height="7.5" fill="#ff0080"/><rect x="976" y="466.0" width="1" height="12.6" fill="#000"/><rect x="975" y="467.5" width="3" height="5.5" fill="#000"/><rect x="976" y="468.5" width="1" height="3.5" fill="#ff0080"/><rect x="979" y="469.8" width="1" height="20.7" fill="#000"/><rect x="978" y="473.0" width="3" height="3.2" fill="#000"/><rect x="979" y="474.0" width="1" height="1.2" fill="#ff0080"/><rect x="982" y="460.3" width="1" height="17.7" fill="#000"/><rect x="981" y="462.7" width="3" height="13.5" fill="#000"/><rect x="982" y="463.7" width="1" height="11.5" fill="#33c41f"/><rect x="984" y="419.0" width="1" height="160.6" fill="#000"/><rect x="983" y="462.7" width="3" height="24.6" fill="#000"/><rect x="984" y="463.7" width="1" height="22.6" fill="#ff0080"/><rect x="987" y="446.0" width="1" height="43.0" fill="#000"/><rect x="986" y="454.0" width="3" height="33.3" fill="#000"/><rect x="987" y="455.0" width="1" height="31.3" fill="#33c41f"/><rect x="990" y="452.0" width="1" height="52.8" fill="#000"/><rect x="989" y="454.0" width="3" height="33.3" fill="#000"/><rect x="990" y="455.0" width="1" height="31.3" fill="#ff0080"/><rect x="992" y="477.0" width="1" height="23.0" fill="#000"/><rect x="991" y="484.1" width="3" height="14.3" fill="#000"/><rect x="992" y="485.1" width="1" height="12.3" fill="#ff0080"/><rect x="995" y="440.5" width="1" height="48.5" fill="#000"/><rect x="994" y="475.4" width="3" height="11.9" fill="#000"/><rect x="995" y="476.4" width="1" height="9.9" fill="#33c41f"/><rect x="998" y="467.5" width="1" height="9.5" fill="#000"/><rect x="997" y="473.0" width="3" height="2.4" fill="#000"/><rect x="998" y="474.0" width="1" height="0.4" fill="#33c41f"/><rect x="1000" y="427.0" width="1" height="68.2" fill="#000"/><rect x="999" y="429.4" width="3" height="43.6" fill="#000"/><rect x="1000" y="430.4" width="1" height="41.6" fill="#33c41f"/><rect x="1003" y="409.5" width="1" height="35.7" fill="#000"/><rect x="1002" y="415.0" width="3" height="14.4" fill="#000"/><rect x="1003" y="416.0" width="1" height="12.4" fill="#33c41f"/><rect x="1006" y="388.9" width="1" height="27.1" fill="#000"/><rect x="1005" y="409.5" width="3" height="5.5" fill="#000"/><rect x="1006" y="410.5" width="1" height="3.5" fill="#33c41f"/><rect x="1008" y="395.2" width="1" height="18.8" fill="#000"/><rect x="1007" y="408.7" width="3" height="4.0" fill="#000"/><rect x="1008" y="409.7" width="1" height="2.0" fill="#ff0080"/><rect x="1011" y="403.2" width="1" height="48.4" fill="#000"/><rect x="1010" y="412.7" width="3" height="8.7" fill="#000"/><rect x="1011" y="413.7" width="1" height="6.7" fill="#ff0080"/><rect x="1014" y="414.0" width="1" height="9.0" fill="#000"/><rect x="1013" y="416.7" width="3" height="4.7" fill="#000"/><rect x="1014" y="417.7" width="1" height="2.7" fill="#33c41f"/><rect x="1016" y="384.3" width="1" height="33.7" fill="#000"/><rect x="1015" y="397.0" width="3" height="19.7" fill="#000"/><rect x="1016" y="398.0" width="1" height="17.7" fill="#33c41f"/><rect x="1019" y="381.9" width="1" height="36.1" fill="#000"/><rect x="1018" y="397.0" width="3" height="19.8" fill="#000"/><rect x="1019" y="398.0" width="1" height="17.8" fill="#ff0080"/><rect x="1022" y="381.9" width="1" height="53.1" fill="#000"/><rect x="1021" y="409.7" width="3" height="7.1" fill="#000"/><rect x="1022" y="410.7" width="1" height="5.1" fill="#33c41f"/><rect x="1024" y="403.3" width="1" height="22.7" fill="#000"/><rect x="1023" y="409.7" width="3" height="15.1" fill="#000"/><rect x="1024" y="410.7" width="1" height="13.1" fill="#ff0080"/><rect x="1027" y="420.8" width="1" height="13.2" fill="#000"/><rect x="1026" y="424.8" width="3" height="7.9" fill="#000"/><rect x="1027" y="425.8" width="1" height="5.9" fill="#ff0080"/><rect x="1030" y="431.0" width="1" height="13.6" fill="#000"/><rect x="1029" y="432.7" width="3" height="8.7" fill="#000"/><rect x="1030" y="433.7" width="1" height="6.7" fill="#ff0080"/><rect x="1032" y="401.0" width="1" height="45.2" fill="#000"/><rect x="1031" y="425.6" width="3" height="15.8" fill="#000"/><rect x="1032" y="426.6" width="1" height="13.8" fill="#33c41f"/><rect x="1035" y="408.9" width="1" height="18.1" fill="#000"/><rect x="1034" y="413.7" width="3" height="11.9" fill="#000"/><rect x="1035" y="414.7" width="1" height="9.9" fill="#33c41f"/><rect x="1038" y="409.7" width="1" height="15.3" fill="#000"/><rect x="1037" y="413.7" width="3" height="10.3" fill="#000"/><rect x="1038" y="414.7" width="1" height="8.3" fill="#ff0080"/><rect x="1040" y="422.0" width="1" height="29.0" fill="#000"/><rect x="1039" y="424.0" width="3" height="26.2" fill="#000"/><rect x="1040" y="425.0" width="1" height="24.2" fill="#ff0080"/><rect x="1043" y="443.0" width="1" height="21.4" fill="#000"/><rect x="1042" y="450.2" width="3" height="2.3" fill="#000"/><rect x="1043" y="451.2" width="1" height="0.3" fill="#ff0080"/><rect x="1046" y="442.2" width="1" height="11.8" fill="#000"/><rect x="1045" y="451.7" width="3" height="1.0" fill="#000"/><rect x="1048" y="434.3" width="1" height="30.7" fill="#000"/><rect x="1047" y="451.7" width="3" height="12.7" fill="#000"/><rect x="1048" y="452.7" width="1" height="10.7" fill="#ff0080"/><rect x="1051" y="447.8" width="1" height="32.2" fill="#000"/><rect x="1050" y="464.4" width="3" height="15.1" fill="#000"/><rect x="1051" y="465.4" width="1" height="13.1" fill="#ff0080"/><rect x="1054" y="463.7" width="1" height="19.8" fill="#000"/><rect x="1053" y="479.5" width="3" height="1.0" fill="#000"/><rect x="1056" y="475.0" width="1" height="7.0" fill="#000"/><rect x="1055" y="479.5" width="3" height="1.0" fill="#000"/><rect x="1059" y="469.2" width="1" height="22.2" fill="#000"/><rect x="1058" y="479.5" width="3" height="8.0" fill="#000"/><rect x="1059" y="480.5" width="1" height="6.0" fill="#ff0080"/><rect x="1062" y="475.6" width="1" height="13.4" fill="#000"/><rect x="1061" y="479.5" width="3" height="8.0" fill="#000"/><rect x="1062" y="480.5" width="1" height="6.0" fill="#33c41f"/><rect x="1064" y="466.0" width="1" height="39.0" fill="#000"/><rect x="1063" y="479.5" width="3" height="1.0" fill="#000"/><rect x="1067" y="450.2" width="1" height="30.8" fill="#000"/><rect x="1066" y="460.5" width="3" height="19.0" fill="#000"/><rect x="1067" y="461.5" width="1" height="17.0" fill="#33c41f"/><rect x="1070" y="459.0" width="1" height="48.0" fill="#000"/><rect x="1069" y="460.5" width="3" height="45.2" fill="#000"/><rect x="1070" y="461.5" width="1" height="43.2" fill="#ff0080"/><rect x="1072" y="495.4" width="1" height="23.6" fill="#000"/><rect x="1071" y="505.7" width="3" height="11.9" fill="#000"/><rect x="1072" y="506.7" width="1" height="9.9" fill="#ff0080"/><rect x="1075" y="515.0" width="1" height="7.0" fill="#000"/><rect x="1074" y="517.6" width="3" height="1.6" fill="#000"/><rect x="1078" y="517.0" width="1" height="13.0" fill="#000"/><rect x="1077" y="519.2" width="3" height="7.9" fill="#000"/><rect x="1078" y="520.2" width="1" height="5.9" fill="#ff0080"/><rect x="1080" y="525.0" width="1" height="50.5" fill="#000"/><rect x="1079" y="527.1" width="3" height="36.2" fill="#000"/><rect x="1080" y="528.1" width="1" height="34.2" fill="#ff0080"/><rect x="1083" y="550.0" width="1" height="24.2" fill="#000"/><rect x="1082" y="551.8" width="3" height="11.5" fill="#000"/><rect x="1083" y="552.8" width="1" height="9.5" fill="#33c41f"/><rect x="1086" y="513.0" width="1" height="40.0" fill="#000"/><rect x="1085" y="526.4" width="3" height="25.4" fill="#000"/><rect x="1086" y="527.4" width="1" height="23.4" fill="#33c41f"/><rect x="1088" y="512.4" width="1" height="17.6" fill="#000"/><rect x="1087" y="526.4" width="3" height="1.0" fill="#000"/><rect x="1091" y="520.3" width="1" height="15.7" fill="#000"/><rect x="1090" y="526.4" width="3" height="3.0" fill="#000"/><rect x="1091" y="527.4" width="1" height="1.0" fill="#ff0080"/><rect x="1094" y="519.7" width="1" height="11.3" fill="#000"/><rect x="1093" y="524.5" width="3" height="4.9" fill="#000"/><rect x="1094" y="525.5" width="1" height="2.9" fill="#33c41f"/><rect x="1096" y="515.0" width="1" height="26.5" fill="#000"/><rect x="1095" y="517.3" width="3" height="7.2" fill="#000"/><rect x="1096" y="518.3" width="1" height="5.2" fill="#33c41f"/><rect x="1099" y="488.2" width="1" height="29.8" fill="#000"/><rect x="1098" y="501.5" width="3" height="15.8" fill="#000"/><rect x="1099" y="502.5" width="1" height="13.8" fill="#33c41f"/><rect x="1102" y="488.8" width="1" height="35.2" fill="#000"/><rect x="1101" y="501.5" width="3" height="21.2" fill="#000"/><rect x="1102" y="502.5" width="1" height="19.2" fill="#ff0080"/><rect x="1104" y="517.3" width="1" height="15.7" fill="#000"/><rect x="1103" y="522.7" width="3" height="9.1" fill="#000"/><rect x="1104" y="523.7" width="1" height="7.1" fill="#ff0080"/><rect x="1107" y="524.0" width="1" height="18.7" fill="#000"/><rect x="1106" y="527.6" width="3" height="4.2" fill="#000"/><rect x="1107" y="528.6" width="1" height="2.2" fill="#33c41f"/><rect x="1110" y="524.5" width="1" height="20.5" fill="#000"/><rect x="1109" y="527.6" width="3" height="16.4" fill="#000"/><rect x="1110" y="528.6" width="1" height="14.4" fill="#ff0080"/><rect x="1112" y="511.2" width="1" height="48.5" fill="#000"/><rect x="1111" y="544.0" width="3" height="1.0" fill="#000"/><rect x="1115" y="529.4" width="1" height="38.6" fill="#000"/><rect x="1114" y="544.0" width="3" height="23.0" fill="#000"/><rect x="1115" y="545.0" width="1" height="21.0" fill="#ff0080"/><rect x="1118" y="519.7" width="1" height="57.6" fill="#000"/><rect x="1117" y="544.0" width="3" height="23.0" fill="#000"/><rect x="1118" y="545.0" width="1" height="21.0" fill="#33c41f"/><rect x="1120" y="540.9" width="1" height="25.1" fill="#000"/><rect x="1119" y="544.0" width="3" height="21.2" fill="#000"/><rect x="1120" y="545.0" width="1" height="19.2" fill="#ff0080"/><rect x="1123" y="555.0" width="1" height="21.7" fill="#000"/><rect x="1122" y="557.3" width="3" height="7.9" fill="#000"/><rect x="1123" y="558.3" width="1" height="5.9" fill="#33c41f"/><rect x="1126" y="553.6" width="1" height="6.4" fill="#000"/><rect x="1125" y="557.3" width="3" height="1.0" fill="#000"/><rect x="1128" y="555.0" width="1" height="15.6" fill="#000"/><rect x="1127" y="557.3" width="3" height="6.7" fill="#000"/><rect x="1128" y="558.3" width="1" height="4.7" fill="#ff0080"/><rect x="1131" y="540.0" width="1" height="29.4" fill="#000"/><rect x="1130" y="541.5" width="3" height="22.5" fill="#000"/><rect x="1131" y="542.5" width="1" height="20.5" fill="#33c41f"/><rect x="1134" y="532.0" width="1" height="20.4" fill="#000"/><rect x="1133" y="534.8" width="3" height="6.7" fill="#000"/><rect x="1134" y="535.8" width="1" height="4.7" fill="#33c41f"/><rect x="1136" y="512.4" width="1" height="23.6" fill="#000"/><rect x="1135" y="524.0" width="3" height="10.8" fill="#000"/><rect x="1136" y="525.0" width="1" height="8.8" fill="#33c41f"/><rect x="1139" y="519.1" width="1" height="19.4" fill="#000"/><rect x="1138" y="524.0" width="3" height="5.4" fill="#000"/><rect x="1139" y="525.0" width="1" height="3.4" fill="#ff0080"/><rect x="1142" y="521.5" width="1" height="9.5" fill="#000"/><rect x="1141" y="524.5" width="3" height="4.9" fill="#000"/><rect x="1142" y="525.5" width="1" height="2.9" fill="#33c41f"/><rect x="1144" y="519.7" width="1" height="23.6" fill="#000"/><rect x="1143" y="524.5" width="3" height="11.0" fill="#000"/><rect x="1144" y="525.5" width="1" height="9.0" fill="#ff0080"/><rect x="1147" y="513.0" width="1" height="49.7" fill="#000"/><rect x="1146" y="535.5" width="3" height="3.6" fill="#000"/><rect x="1147" y="536.5" width="1" height="1.6" fill="#ff0080"/><rect x="1150" y="525.2" width="1" height="31.5" fill="#000"/><rect x="1149" y="537.0" width="3" height="2.1" fill="#000"/><rect x="1150" y="538.0" width="1" height="0.1" fill="#33c41f"/><rect x="1152" y="525.8" width="1" height="16.9" fill="#000"/><rect x="1151" y="537.0" width="3" height="4.5" fill="#000"/><rect x="1152" y="538.0" width="1" height="2.5" fill="#ff0080"/><rect x="1155" y="538.0" width="1" height="14.0" fill="#000"/><rect x="1154" y="541.5" width="3" height="6.7" fill="#000"/><rect x="1155" y="542.5" width="1" height="4.7" fill="#ff0080"/><rect x="1158" y="543.3" width="1" height="5.7" fill="#000"/><rect x="1157" y="548.0" width="3" height="1.0" fill="#000"/><rect x="1160" y="545.7" width="1" height="24.6" fill="#000"/><rect x="1159" y="548.1" width="3" height="17.5" fill="#000"/><rect x="1160" y="549.1" width="1" height="15.5" fill="#ff0080"/><rect x="1163" y="546.5" width="1" height="24.6" fill="#000"/><rect x="1162" y="564.0" width="3" height="1.6" fill="#000"/><rect x="1166" y="544.1" width="1" height="33.4" fill="#000"/><rect x="1165" y="564.0" width="3" height="3.1" fill="#000"/><rect x="1166" y="565.0" width="1" height="1.1" fill="#ff0080"/><rect x="1168" y="557.6" width="1" height="10.4" fill="#000"/><rect x="1167" y="564.0" width="3" height="3.1" fill="#000"/><rect x="1168" y="565.0" width="1" height="1.1" fill="#33c41f"/><rect x="1171" y="556.0" width="1" height="22.3" fill="#000"/><rect x="1170" y="558.4" width="3" height="5.6" fill="#000"/><rect x="1171" y="559.4" width="1" height="3.6" fill="#33c41f"/><rect x="1174" y="548.9" width="1" height="11.1" fill="#000"/><rect x="1173" y="552.9" width="3" height="5.5" fill="#000"/><rect x="1174" y="553.9" width="1" height="3.5" fill="#33c41f"/><rect x="1176" y="550.5" width="1" height="53.5" fill="#000"/><rect x="1175" y="552.9" width="3" height="50.8" fill="#000"/><rect x="1176" y="553.9" width="1" height="48.8" fill="#ff0080"/><rect x="1179" y="600.5" width="1" height="19.0" fill="#000"/><rect x="1178" y="603.7" width="3" height="7.9" fill="#000"/><rect x="1179" y="604.7" width="1" height="5.9" fill="#ff0080"/><rect x="1182" y="602.0" width="1" height="36.6" fill="#000"/><rect x="1181" y="611.6" width="3" height="15.1" fill="#000"/><rect x="1182" y="612.6" width="1" height="13.1" fill="#ff0080"/><rect x="1184" y="625.0" width="1" height="10.0" fill="#000"/><rect x="1183" y="626.7" width="3" height="6.3" fill="#000"/><rect x="1184" y="627.7" width="1" height="4.3" fill="#ff0080"/><rect x="1187" y="627.0" width="1" height="13.2" fill="#000"/><rect x="1186" y="629.0" width="3" height="4.0" fill="#000"/><rect x="1187" y="630.0" width="1" height="2.0" fill="#33c41f"/><rect x="1190" y="624.3" width="1" height="11.1" fill="#000"/><rect x="1189" y="629.0" width="3" height="1.0" fill="#000"/><rect x="1192" y="615.6" width="1" height="30.9" fill="#000"/><rect x="1191" y="619.5" width="3" height="9.5" fill="#000"/><rect x="1192" y="620.5" width="1" height="7.5" fill="#33c41f"/><rect x="1195" y="613.2" width="1" height="23.8" fill="#000"/><rect x="1194" y="619.5" width="3" height="15.9" fill="#000"/><rect x="1195" y="620.5" width="1" height="13.9" fill="#ff0080"/><rect x="1198" y="633.0" width="1" height="34.9" fill="#000"/><rect x="1197" y="635.4" width="3" height="23.0" fill="#000"/><rect x="1198" y="636.4" width="1" height="21.0" fill="#ff0080"/><rect x="1200" y="650.5" width="1" height="9.5" fill="#000"/><rect x="1199" y="658.0" width="3" height="1.0" fill="#000"/><rect x="1203" y="655.0" width="1" height="15.3" fill="#000"/><rect x="1202" y="657.6" width="3" height="3.2" fill="#000"/><rect x="1203" y="658.6" width="1" height="1.2" fill="#ff0080"/><rect x="1206" y="652.0" width="1" height="10.0" fill="#000"/><rect x="1205" y="656.8" width="3" height="4.0" fill="#000"/><rect x="1206" y="657.8" width="1" height="2.0" fill="#33c41f"/><rect x="1208" y="636.2" width="1" height="21.8" fill="#000"/><rect x="1207" y="643.3" width="3" height="13.5" fill="#000"/><rect x="1208" y="644.3" width="1" height="11.5" fill="#33c41f"/><rect x="1211" y="618.7" width="1" height="26.3" fill="#000"/><rect x="1210" y="643.0" width="3" height="1.0" fill="#000"/><rect x="1214" y="571.1" width="1" height="72.9" fill="#000"/><rect x="1213" y="583.8" width="3" height="59.5" fill="#000"/><rect x="1214" y="584.8" width="1" height="57.5" fill="#33c41f"/><rect x="1216" y="580.0" width="1" height="22.0" fill="#000"/><rect x="1215" y="583.8" width="3" height="16.7" fill="#000"/><rect x="1216" y="584.8" width="1" height="14.7" fill="#ff0080"/><rect x="1219" y="578.3" width="1" height="36.5" fill="#000"/><rect x="1218" y="592.5" width="3" height="8.0" fill="#000"/><rect x="1219" y="593.5" width="1" height="6.0" fill="#33c41f"/><rect x="1222" y="586.0" width="1" height="8.0" fill="#000"/><rect x="1221" y="588.6" width="3" height="3.9" fill="#000"/><rect x="1222" y="589.6" width="1" height="1.9" fill="#33c41f"/><rect x="1224" y="518.0" width="1" height="73.3" fill="#000"/><rect x="1223" y="520.3" width="3" height="68.3" fill="#000"/><rect x="1224" y="521.3" width="1" height="66.3" fill="#33c41f"/><rect x="1227" y="492.0" width="1" height="35.5" fill="#000"/><rect x="1226" y="516.3" width="3" height="4.0" fill="#000"/><rect x="1227" y="517.3" width="1" height="2.0" fill="#33c41f"/><rect x="1230" y="476.0" width="1" height="43.0" fill="#000"/><rect x="1229" y="480.1" width="3" height="38.0" fill="#000"/><rect x="1230" y="481.1" width="1" height="36.0" fill="#33c41f"/><rect x="1232" y="471.4" width="1" height="18.2" fill="#000"/><rect x="1231" y="477.0" width="3" height="3.1" fill="#000"/><rect x="1232" y="478.0" width="1" height="1.1" fill="#33c41f"/><rect x="1235" y="457.9" width="1" height="41.1" fill="#000"/><rect x="1234" y="464.3" width="3" height="12.7" fill="#000"/><rect x="1235" y="465.3" width="1" height="10.7" fill="#33c41f"/><rect x="1238" y="461.7" width="1" height="6.2" fill="#000"/><rect x="1237" y="464.3" width="3" height="1.0" fill="#000"/><rect x="1240" y="462.7" width="1" height="48.3" fill="#000"/><rect x="1239" y="464.3" width="3" height="45.9" fill="#000"/><rect x="1240" y="465.3" width="1" height="43.9" fill="#ff0080"/><rect x="1243" y="506.3" width="1" height="27.7" fill="#000"/><rect x="1242" y="510.2" width="3" height="10.3" fill="#000"/><rect x="1243" y="511.2" width="1" height="8.3" fill="#ff0080"/><rect x="1246" y="518.0" width="1" height="51.6" fill="#000"/><rect x="1245" y="520.5" width="3" height="19.8" fill="#000"/><rect x="1246" y="521.5" width="1" height="17.8" fill="#ff0080"/><rect x="1248" y="530.8" width="1" height="20.6" fill="#000"/><rect x="1247" y="539.5" width="3" height="2.4" fill="#000"/><rect x="1248" y="540.5" width="1" height="0.4" fill="#ff0080"/><rect x="1251" y="522.9" width="1" height="32.5" fill="#000"/><rect x="1250" y="533.2" width="3" height="8.7" fill="#000"/><rect x="1251" y="534.2" width="1" height="6.7" fill="#33c41f"/><rect x="1254" y="530.0" width="1" height="10.0" fill="#000"/><rect x="1253" y="533.2" width="3" height="5.5" fill="#000"/><rect x="1254" y="534.2" width="1" height="3.5" fill="#ff0080"/><rect x="1256" y="536.0" width="1" height="51.0" fill="#000"/><rect x="1255" y="538.7" width="3" height="47.6" fill="#000"/><rect x="1256" y="539.7" width="1" height="45.6" fill="#ff0080"/><rect x="1259" y="571.2" width="1" height="27.0" fill="#000"/><rect x="1258" y="576.8" width="3" height="9.5" fill="#000"/><rect x="1259" y="577.8" width="1" height="7.5" fill="#33c41f"/><rect x="1262" y="549.8" width="1" height="59.2" fill="#000"/><rect x="1261" y="576.8" width="3" height="31.7" fill="#000"/><rect x="1262" y="577.8" width="1" height="29.7" fill="#ff0080"/><rect x="1264" y="605.0" width="1" height="12.7" fill="#000"/><rect x="1263" y="608.0" width="3" height="2.0" fill="#000"/><rect x="1267" y="589.0" width="1" height="33.9" fill="#000"/><rect x="1266" y="591.6" width="3" height="18.4" fill="#000"/><rect x="1267" y="592.6" width="1" height="16.4" fill="#33c41f"/><rect x="1270" y="559.4" width="1" height="32.6" fill="#000"/><rect x="1269" y="580.8" width="3" height="10.8" fill="#000"/><rect x="1270" y="581.8" width="1" height="8.8" fill="#33c41f"/><rect x="1272" y="559.4" width="1" height="41.4" fill="#000"/><rect x="1271" y="574.6" width="3" height="6.2" fill="#000"/><rect x="1272" y="575.6" width="1" height="4.2" fill="#33c41f"/><rect x="1275" y="572.0" width="1" height="42.7" fill="#000"/><rect x="1274" y="574.6" width="3" height="7.7" fill="#000"/><rect x="1275" y="575.6" width="1" height="5.7" fill="#ff0080"/><rect x="1278" y="572.0" width="1" height="57.0" fill="#000"/><rect x="1277" y="582.3" width="3" height="45.7" fill="#000"/><rect x="1278" y="583.3" width="1" height="43.7" fill="#ff0080"/><rect x="1280" y="608.5" width="1" height="48.3" fill="#000"/><rect x="1279" y="628.0" width="3" height="24.6" fill="#000"/><rect x="1280" y="629.0" width="1" height="22.6" fill="#ff0080"/><rect x="1283" y="623.4" width="1" height="36.4" fill="#000"/><rect x="1282" y="630.6" width="3" height="22.0" fill="#000"/><rect x="1283" y="631.6" width="1" height="20.0" fill="#33c41f"/><rect x="1286" y="616.0" width="1" height="16.0" fill="#000"/><rect x="1285" y="618.8" width="3" height="11.8" fill="#000"/><rect x="1286" y="619.8" width="1" height="9.8" fill="#33c41f"/><rect x="1288" y="608.0" width="1" height="64.7" fill="#000"/><rect x="1287" y="618.8" width="3" height="51.8" fill="#000"/><rect x="1288" y="619.8" width="1" height="49.8" fill="#ff0080"/><rect x="1291" y="599.0" width="1" height="72.0" fill="#000"/><rect x="1290" y="599.8" width="3" height="70.8" fill="#000"/><rect x="1291" y="600.8" width="1" height="68.8" fill="#33c41f"/><rect x="1294" y="543.0" width="1" height="59.9" fill="#000"/><rect x="1293" y="551.4" width="3" height="48.4" fill="#000"/><rect x="1294" y="552.4" width="1" height="46.4" fill="#33c41f"/><rect x="1296" y="529.2" width="1" height="22.8" fill="#000"/><rect x="1295" y="541.9" width="3" height="9.5" fill="#000"/><rect x="1296" y="542.9" width="1" height="7.5" fill="#33c41f"/><rect x="1299" y="518.0" width="1" height="25.0" fill="#000"/><rect x="1298" y="520.5" width="3" height="21.4" fill="#000"/><rect x="1299" y="521.5" width="1" height="19.4" fill="#33c41f"/><rect x="1302" y="504.7" width="1" height="16.3" fill="#000"/><rect x="1301" y="511.0" width="3" height="9.5" fill="#000"/><rect x="1302" y="512.0" width="1" height="7.5" fill="#33c41f"/><rect x="1304" y="504.0" width="1" height="29.0" fill="#000"/><rect x="1303" y="511.0" width="3" height="21.4" fill="#000"/><rect x="1304" y="512.0" width="1" height="19.4" fill="#ff0080"/></g>
<rect x="1235" y="538.8" width="79" height="1" fill="#131722"/>
<text x="1334" y="542.8" font-size="12" fill="#333333">P (0.82872)</text>
<path d="M10.0,54.0 C11.4,56.3 14.8,62.2 18.7,68.0 C22.6,73.8 29.9,83.2 33.6,88.5 C37.3,93.8 37.3,95.4 41.0,99.7 C44.7,104.0 49.8,107.8 56.0,114.6 C62.2,121.4 71.0,133.2 78.4,140.7 C85.9,148.2 93.1,152.5 100.7,159.4 C108.3,166.3 118.1,177.0 124.0,182.1 C129.9,187.2 132.1,187.2 136.1,190.0 C140.1,192.8 145.3,196.7 148.2,199.0 C151.1,201.3 151.0,201.9 153.7,204.0 C156.4,206.1 160.0,208.6 164.2,211.5 C168.4,214.4 175.0,218.4 179.0,221.2 C183.0,223.9 183.0,225.0 188.0,228.0 C193.0,231.0 202.9,236.5 208.9,239.1 C214.9,241.7 219.4,242.5 223.9,243.6 C228.4,244.7 232.1,244.8 235.8,245.8 C239.5,246.8 241.8,248.5 246.3,249.6 C250.8,250.7 256.7,250.7 263.0,252.2 C269.3,253.7 276.3,254.4 284.3,258.4 C292.3,262.4 302.9,271.5 310.9,276.1 C318.9,280.7 323.2,280.5 332.1,285.8 C341.0,291.1 355.7,301.9 364.0,308.0 C372.3,314.1 375.9,317.1 381.8,322.1 C387.7,327.1 394.8,334.1 399.5,338.1 C404.2,342.1 405.7,344.2 410.1,346.1 C414.5,348.0 420.4,347.4 426.0,349.6 C431.6,351.8 436.4,356.0 443.8,359.4 C451.2,362.8 461.5,366.2 470.4,370.0 C479.3,373.8 488.1,378.6 497.0,382.4 C505.9,386.2 514.6,389.7 523.5,393.0 C532.4,396.3 544.0,401.3 550.4,402.2 C556.8,403.1 554.5,398.5 561.6,398.5 C568.8,398.5 581.8,401.0 593.3,402.2 C604.8,403.4 618.2,405.9 630.6,405.9 C643.0,405.9 660.8,402.7 667.9,402.2 C675.0,401.7 669.8,401.6 673.5,403.1 C677.2,404.7 683.4,408.4 690.3,411.5 C697.1,414.6 707.8,419.8 714.6,421.8 C721.4,423.8 726.0,424.5 731.3,423.7 C736.6,422.9 737.3,419.3 746.3,417.1 C755.3,414.9 773.1,410.9 785.4,410.6 C797.7,410.4 808.0,412.4 820.0,415.6 C832.0,418.8 844.9,427.0 857.3,429.6 C869.7,432.2 883.7,431.4 894.6,431.4 C905.5,431.4 913.3,430.6 922.6,429.6 C931.9,428.6 941.3,426.2 950.6,425.4 C959.9,424.6 970.8,423.9 978.6,424.9 C986.4,425.9 991.0,428.6 997.2,431.4 C1003.4,434.2 1008.1,438.3 1015.9,441.7 C1023.7,445.1 1036.1,449.3 1043.9,451.9 C1051.7,454.5 1054.7,455.6 1062.5,457.5 C1070.3,459.4 1081.2,462.2 1090.5,463.1 C1099.8,464.0 1108.6,461.9 1118.5,463.1 C1128.4,464.3 1142.9,468.7 1150.0,470.4 C1157.1,472.1 1157.5,472.3 1161.2,473.4 C1164.9,474.5 1167.4,474.0 1172.4,477.2 C1177.4,480.4 1184.8,487.2 1191.0,492.8 C1197.2,498.4 1204.7,506.6 1209.7,510.7 C1214.7,514.8 1215.9,515.9 1220.9,517.5 C1225.9,519.1 1234.1,519.2 1239.6,520.1 C1245.1,521.0 1248.7,521.1 1253.7,522.9 C1258.7,524.7 1265.0,528.2 1269.5,530.8 C1274.0,533.4 1277.2,535.9 1280.6,538.7 C1284.0,541.5 1286.1,545.1 1290.1,547.5 C1294.1,549.9 1302.0,552.1 1304.4,553.0" fill="none" stroke="#2b8af1" stroke-width="2.1" stroke-linejoin="round"/>
<path d="M10.0,141.0 C20.8,140.6 57.5,139.2 75.0,138.5 C92.5,137.8 104.2,137.8 115.0,137.0 C125.8,136.2 128.3,134.8 140.0,134.0 C151.7,133.2 169.5,132.5 185.0,132.0 C200.5,131.5 221.2,129.6 232.8,130.8 C244.4,132.0 246.9,134.9 254.4,139.0 C261.9,143.1 269.6,147.9 278.0,155.4 C286.4,162.9 295.8,176.0 304.7,184.2 C313.6,192.4 321.5,196.8 331.4,204.7 C341.3,212.6 355.3,223.4 364.2,231.4 C373.1,239.4 377.8,246.8 384.7,252.9 C391.6,259.1 398.4,264.0 405.3,268.3 C412.2,272.6 419.0,274.8 425.8,278.6 C432.6,282.4 436.0,286.1 446.3,290.9 C456.6,295.7 475.8,302.7 487.4,307.3 C499.0,311.9 505.2,314.6 516.0,318.6 C526.8,322.6 543.1,328.6 552.2,331.3 C561.4,334.0 564.0,332.8 570.9,335.0 C577.8,337.2 583.3,340.7 593.3,344.4 C603.2,348.1 618.2,352.6 630.6,357.4 C643.0,362.2 655.5,368.3 667.9,373.3 C680.3,378.3 695.9,383.7 705.2,387.3 C714.5,390.9 717.7,393.1 723.9,394.7 C730.1,396.2 734.7,395.7 742.5,396.6 C750.3,397.5 762.7,399.2 770.5,400.3 C778.3,401.4 781.0,401.7 789.2,403.1 C797.5,404.5 811.8,407.5 820.0,408.7 C828.2,409.9 832.2,409.4 838.7,410.5 C845.2,411.6 848.3,414.3 859.2,415.6 C870.1,416.9 890.6,418.6 904.0,418.4 C917.4,418.2 927.0,414.3 939.4,414.6 C951.8,414.9 967.4,417.9 978.6,420.2 C989.8,422.5 995.7,426.6 1006.6,428.6 C1017.5,430.6 1031.5,430.8 1043.9,432.4 C1056.3,434.0 1071.9,436.2 1081.2,438.0 C1090.5,439.8 1091.2,441.4 1100.0,443.0 C1108.8,444.6 1122.2,445.6 1134.0,447.4 C1145.8,449.2 1161.9,451.9 1170.5,454.0 C1179.1,456.1 1180.5,458.0 1185.8,460.0 C1191.1,462.0 1196.2,464.1 1202.2,466.0 C1208.2,467.9 1215.5,470.5 1222.0,471.4 C1228.5,472.3 1236.2,471.2 1241.0,471.6 C1245.8,472.0 1246.5,472.4 1250.5,473.8 C1254.5,475.2 1260.3,477.7 1264.8,480.1 C1269.3,482.5 1273.3,485.4 1277.5,488.0 C1281.7,490.6 1285.6,493.8 1290.1,496.0 C1294.6,498.2 1302.0,500.6 1304.4,501.5" fill="none" stroke="#e6007a" stroke-width="2.1" stroke-linejoin="round"/>
<line x1="153.3" y1="204.3" x2="1402" y2="459.0" stroke="#2b8af1" stroke-width="2"/>
<line x1="153.3" y1="444.6" x2="1517" y2="722.8" stroke="#2b8af1" stroke-width="2"/>
<rect x="1402" y="440" width="233" height="67" rx="8" ry="8" fill="#3d94f1"/>
<path d="M1404,466 L1316,490 L1404,481.6 Z" fill="#3d94f1"/>
<text x="1412" y="467" font-size="22.5" fill="#ffffff" textLength="213" lengthAdjust="spacingAndGlyphs">Potential resistance</text>
<text x="1412" y="491" font-size="22.5" fill="#ffffff" textLength="187" lengthAdjust="spacingAndGlyphs">near the 200 SMA</text>
<text x="25" y="43.2" font-size="29" fill="#131722" textLength="213" lengthAdjust="spacingAndGlyphs">EUR/GBP: 4-hour</text>
<text x="1870" y="28.0" font-size="13.5" fill="#131722">0.85400</text>
<text x="1870" y="68.9" font-size="13.5" fill="#131722">0.85200</text>
<text x="1870" y="109.7" font-size="13.5" fill="#131722">0.85000</text>
<text x="1870" y="150.6" font-size="13.5" fill="#131722">0.84800</text>
<text x="1870" y="191.5" font-size="13.5" fill="#131722">0.84600</text>
<text x="1870" y="232.3" font-size="13.5" fill="#131722">0.84400</text>
<text x="1870" y="273.2" font-size="13.5" fill="#131722">0.84200</text>
<text x="1870" y="314.1" font-size="13.5" fill="#131722">0.84000</text>
<text x="1870" y="355.0" font-size="13.5" fill="#131722">0.83800</text>
<text x="1870" y="395.8" font-size="13.5" fill="#131722">0.83600</text>
<text x="1870" y="436.7" font-size="13.5" fill="#131722">0.83400</text>
<text x="1870" y="477.6" font-size="13.5" fill="#131722">0.83200</text>
<text x="1870" y="518.4" font-size="13.5" fill="#131722">0.83000</text>
<text x="1870" y="559.3" font-size="13.5" fill="#131722">0.82800</text>
<text x="1870" y="600.2" font-size="13.5" fill="#131722">0.82600</text>
<text x="1870" y="641.0" font-size="13.5" fill="#131722">0.82400</text>
<text x="1870" y="681.9" font-size="13.5" fill="#131722">0.82200</text>
<text x="1870" y="722.8" font-size="13.5" fill="#131722">0.82000</text>
<text x="1870" y="763.7" font-size="13.5" fill="#131722">0.81800</text>
<text x="1870" y="804.5" font-size="13.5" fill="#131722">0.81600</text>
<text x="1870" y="845.4" font-size="13.5" fill="#131722">0.81400</text>
<text x="1870" y="886.3" font-size="13.5" fill="#131722">0.81200</text>
<text x="1870" y="927.1" font-size="13.5" fill="#131722">0.81000</text>
<text x="1870" y="968.0" font-size="13.5" fill="#131722">0.80800</text>
<rect x="1801" y="522" width="124" height="21" rx="2" fill="#ff0080"/>
<rect x="1860" y="522" width="1" height="21" fill="#e0a0c0"/>
<text x="1805" y="537" font-size="13.5" fill="#ffffff" textLength="50" lengthAdjust="spacingAndGlyphs">EURGBP</text>
<text x="1870" y="537" font-size="13.5" fill="#ffffff">0.82910</text>
<text x="39.6" y="1025" font-size="13.5" fill="#131722" text-anchor="middle">Sep</text>
<text x="201.8" y="1025" font-size="13.5" fill="#131722" text-anchor="middle">16</text>
<text x="377" y="1025" font-size="13.5" fill="#131722" text-anchor="middle">Oct</text>
<text x="520.6" y="1025" font-size="13.5" fill="#131722" text-anchor="middle">14</text>
<text x="615.8" y="1025" font-size="13.5" fill="#131722" text-anchor="middle">22</text>
<text x="743.6" y="1025" font-size="13.5" fill="#131722" text-anchor="middle">Nov</text>
<text x="838.7" y="1025" font-size="13.5" fill="#131722" text-anchor="middle">11</text>
<text x="934.5" y="1025" font-size="13.5" fill="#131722" text-anchor="middle">19</text>
<text x="1075.3" y="1025" font-size="13.5" fill="#131722" text-anchor="middle">Dec</text>
<text x="1237.2" y="1025" font-size="13.5" fill="#131722" text-anchor="middle">16</text>
<text x="1333.2" y="1025" font-size="13.5" fill="#131722" text-anchor="middle">24</text>
<text x="1428.9" y="1025" font-size="13.5" fill="#131722" text-anchor="middle" font-weight="bold">2025</text>
<text x="1556.2" y="1025" font-size="13.5" fill="#131722" text-anchor="middle">13</text>
<text x="1651.4" y="1025" font-size="13.5" fill="#131722" text-anchor="middle">21</text>
<text x="1792.7" y="1025" font-size="13.5" fill="#131722" text-anchor="middle">Feb</text>
<g transform="translate(10,1047.1) scale(0.54)" fill="#131722"><path d="M14 22H7V11H0V4h14v18z"/><path d="M28 22h-8l7.5-18h8L28 22z"/><circle cx="20" cy="8" r="4"/></g>
<text x="33.5" y="1058.6" font-size="12.5" fill="#131722">TradingView</text>
</svg></body></html>
